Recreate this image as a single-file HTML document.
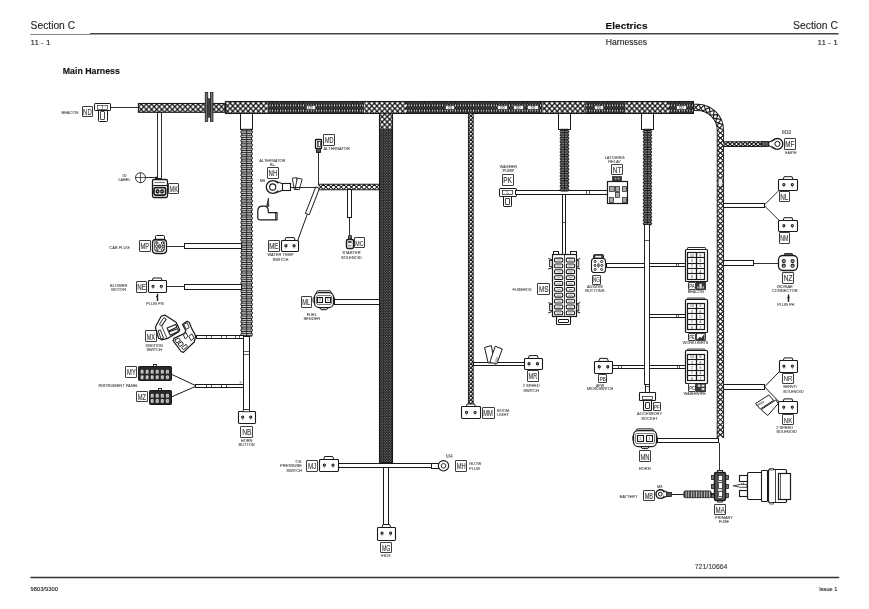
<!DOCTYPE html>
<html><head><meta charset="utf-8"><title>Main Harness</title>
<style>
html,body{margin:0;padding:0;background:#fff;}
body{width:869px;height:609px;overflow:hidden;position:relative;font-family:"Liberation Sans",sans-serif;}
svg{position:absolute;left:0;top:0;will-change:transform;opacity:0.999;}
svg text{font-family:"Liberation Sans",sans-serif;}
</style></head><body>
<svg width="869" height="609" viewBox="0 0 869 609">
<defs>
<pattern id="braidL" width="5.15" height="5.35" patternUnits="userSpaceOnUse" x="225.0" y="103.25">
<rect width="5.15" height="5.35" fill="#fff"/>
<path d="M-1.03,-1.07 L6.18,6.42 M-1.03,6.42 L6.18,-1.07" stroke="#111" stroke-width="1.25" fill="none"/>
<rect x="1.9" y="2.0" width="1.35" height="1.35" fill="#111"/>
<rect x="-0.7" y="-0.7" width="1.4" height="1.4" fill="#111"/><rect x="4.45" y="-0.7" width="1.4" height="1.4" fill="#111"/>
<rect x="-0.7" y="4.65" width="1.4" height="1.4" fill="#111"/><rect x="4.45" y="4.65" width="1.4" height="1.4" fill="#111"/>
</pattern>
<pattern id="braidL2" width="5.18" height="5.52" patternUnits="userSpaceOnUse" x="138.6" y="106.7">
<rect width="5.18" height="5.52" fill="#fff"/>
<path d="M-1.036,-1.104 L6.216,6.624 M-1.036,6.624 L6.216,-1.104" stroke="#111" stroke-width="1.25" fill="none"/>
<rect x="1.9" y="2.1" width="1.35" height="1.35" fill="#111"/>
<rect x="-0.7" y="-0.7" width="1.4" height="1.4" fill="#111"/><rect x="4.48" y="-0.7" width="1.4" height="1.4" fill="#111"/>
<rect x="-0.7" y="4.82" width="1.4" height="1.4" fill="#111"/><rect x="4.48" y="4.82" width="1.4" height="1.4" fill="#111"/>
</pattern>
<pattern id="braidT" width="4.6" height="4.6" patternUnits="userSpaceOnUse">
<rect width="4.6" height="4.6" fill="#fff"/>
<path d="M-1,-1 L5.6,5.6 M-1,5.6 L5.6,-1" stroke="#111" stroke-width="1.3" fill="none"/>
</pattern>
<pattern id="braidD" width="2.575" height="5.2" patternUnits="userSpaceOnUse" x="225.0" y="102.9">
<rect width="2.575" height="5.2" fill="#1a1a1a"/>
<ellipse cx="1.29" cy="2.5" rx="0.52" ry="1.2" fill="#f0f0f0"/>
<ellipse cx="0" cy="5.1" rx="0.42" ry="0.8" fill="#9a9a9a"/><ellipse cx="2.575" cy="5.1" rx="0.42" ry="0.8" fill="#9a9a9a"/>
<ellipse cx="0" cy="-0.1" rx="0.42" ry="0.8" fill="#9a9a9a"/><ellipse cx="2.575" cy="-0.1" rx="0.42" ry="0.8" fill="#9a9a9a"/>
</pattern>
<pattern id="braidV" width="2.6" height="2.7" patternUnits="userSpaceOnUse" x="379.6" y="129">
<rect width="2.6" height="2.7" fill="#1a1a1a"/>
<circle cx="0.65" cy="0.6" r="0.45" fill="#e0e0e0"/><circle cx="1.95" cy="1.95" r="0.45" fill="#e0e0e0"/>
</pattern>
<pattern id="braidG" width="2.0" height="2.0" patternUnits="userSpaceOnUse" x="205.2" y="92.4">
<rect width="2.0" height="2.0" fill="#e8e8e8"/>
<path d="M-0.5,-0.5 L2.5,2.5 M-0.5,2.5 L2.5,-0.5" stroke="#222" stroke-width="0.6" fill="none"/>
</pattern>
<pattern id="corrV" width="10" height="4.1" patternUnits="userSpaceOnUse" y="129.2">
<rect width="10" height="4.1" fill="#6e6e6e"/>
<rect y="0" width="10" height="1.5" fill="#f2f2f2"/>
<rect y="2.6" width="10" height="0.9" fill="#222"/>
</pattern>
<pattern id="corrH" width="2.6" height="10" patternUnits="userSpaceOnUse" x="683.1">
<rect width="2.6" height="10" fill="#444"/>
<rect x="0" width="0.9" height="10" fill="#ccc"/>
</pattern>
</defs>

<text x="30.60" y="28.80" font-size="10.0" text-anchor="start" fill="#262626" font-weight="normal" stroke="#262626" stroke-width="0.12" textLength="44.5" lengthAdjust="spacingAndGlyphs">Section C</text>
<text x="837.90" y="28.80" font-size="10.0" text-anchor="end" fill="#262626" font-weight="normal" stroke="#262626" stroke-width="0.12" textLength="44.8" lengthAdjust="spacingAndGlyphs">Section C</text>
<text x="605.60" y="28.70" font-size="9.8" text-anchor="start" fill="#111" font-weight="bold" stroke="#111" stroke-width="0.12" textLength="41.9" lengthAdjust="spacingAndGlyphs">Electrics</text>
<line x1="30.30" y1="34.50" x2="90.40" y2="34.50" stroke="#555" stroke-width="0.7"/>
<line x1="90.00" y1="33.85" x2="838.60" y2="33.85" stroke="#444" stroke-width="1.5"/>
<text x="30.60" y="44.60" font-size="8.0" text-anchor="start" fill="#262626" font-weight="normal" stroke="#262626" stroke-width="0.12" textLength="19.8" lengthAdjust="spacingAndGlyphs">11 - 1</text>
<text x="837.90" y="44.60" font-size="8.0" text-anchor="end" fill="#262626" font-weight="normal" stroke="#262626" stroke-width="0.12" textLength="20.4" lengthAdjust="spacingAndGlyphs">11 - 1</text>
<text x="605.80" y="44.60" font-size="8.2" text-anchor="start" fill="#262626" font-weight="normal" stroke="#262626" stroke-width="0.12" textLength="41.2" lengthAdjust="spacingAndGlyphs">Harnesses</text>
<text x="62.80" y="73.90" font-size="8.4" text-anchor="start" fill="#111" font-weight="bold" stroke="#111" stroke-width="0.12" textLength="57.1" lengthAdjust="spacingAndGlyphs">Main Harness</text>
<line x1="30.40" y1="577.50" x2="839.20" y2="577.50" stroke="#333" stroke-width="1.3"/>
<text x="30.40" y="590.70" font-size="5.3" text-anchor="start" fill="#262626" font-weight="normal" stroke="#262626" stroke-width="0.12" textLength="27.6" lengthAdjust="spacingAndGlyphs">9803/9300</text>
<text x="837.40" y="590.70" font-size="5.3" text-anchor="end" fill="#262626" font-weight="normal" stroke="#262626" stroke-width="0.12" textLength="18.2" lengthAdjust="spacingAndGlyphs">Issue 1</text>
<text x="694.70" y="568.70" font-size="6.5" text-anchor="start" fill="#3a3a3a" font-weight="normal" stroke="#3a3a3a" stroke-width="0.12" textLength="32.8" lengthAdjust="spacingAndGlyphs">721/10664</text>
<rect x="138.40" y="103.50" width="86.40" height="8.80" fill="url(#braidL2)" stroke="#1a1a1a" stroke-width="1.1"/>
<rect x="207.60" y="98.60" width="2.80" height="18.80" fill="#444" stroke="#1a1a1a" stroke-width="0.4" />
<rect x="205.25" y="92.4" width="2.5" height="29.0" fill="url(#braidG)" stroke="#1a1a1a" stroke-width="0.8"/>
<rect x="210.45" y="92.4" width="2.5" height="29.0" fill="url(#braidG)" stroke="#1a1a1a" stroke-width="0.8"/>
<rect x="224.9" y="101.4" width="42.70" height="12.0" fill="url(#braidL)"/>
<rect x="267.6" y="101.4" width="96.70" height="12.0" fill="url(#braidD)"/>
<rect x="364.3" y="101.4" width="41.70" height="12.0" fill="url(#braidL)"/>
<rect x="406" y="101.4" width="136.70" height="12.0" fill="url(#braidD)"/>
<rect x="542.7" y="101.4" width="42.50" height="12.0" fill="url(#braidL)"/>
<rect x="585.2" y="101.4" width="40.40" height="12.0" fill="url(#braidD)"/>
<rect x="625.6" y="101.4" width="43.40" height="12.0" fill="url(#braidL)"/>
<rect x="669" y="101.4" width="25.00" height="12.0" fill="url(#braidD)"/>
<rect x="225.50" y="101.50" width="468.00" height="12.00" fill="none" stroke="#1a1a1a" stroke-width="1.05" />
<rect x="306.50" y="105.50" width="9.00" height="4.00" fill="#f6f6f6" stroke="#222" stroke-width="0.6" />
<rect x="308.60" y="106.30" width="1.60" height="2.10" fill="none" stroke="#666" stroke-width="0.45" />
<rect x="311.00" y="106.30" width="1.40" height="2.10" fill="none" stroke="#666" stroke-width="0.45" />
<rect x="445.50" y="105.50" width="9.00" height="4.00" fill="#f6f6f6" stroke="#222" stroke-width="0.6" />
<rect x="448.10" y="106.30" width="1.60" height="2.10" fill="none" stroke="#666" stroke-width="0.45" />
<rect x="450.50" y="106.30" width="1.40" height="2.10" fill="none" stroke="#666" stroke-width="0.45" />
<rect x="497.50" y="105.50" width="10.00" height="4.00" fill="#f6f6f6" stroke="#222" stroke-width="0.6" />
<rect x="500.55" y="106.30" width="1.60" height="2.10" fill="none" stroke="#666" stroke-width="0.45" />
<rect x="502.95" y="106.30" width="1.40" height="2.10" fill="none" stroke="#666" stroke-width="0.45" />
<rect x="513.50" y="105.50" width="10.00" height="4.00" fill="#f6f6f6" stroke="#222" stroke-width="0.6" />
<rect x="516.30" y="106.30" width="1.60" height="2.10" fill="none" stroke="#666" stroke-width="0.45" />
<rect x="518.70" y="106.30" width="1.40" height="2.10" fill="none" stroke="#666" stroke-width="0.45" />
<rect x="527.50" y="105.50" width="11.00" height="4.00" fill="#f6f6f6" stroke="#222" stroke-width="0.6" />
<rect x="531.05" y="106.30" width="1.60" height="2.10" fill="none" stroke="#666" stroke-width="0.45" />
<rect x="533.45" y="106.30" width="1.40" height="2.10" fill="none" stroke="#666" stroke-width="0.45" />
<rect x="594.50" y="105.50" width="9.00" height="4.00" fill="#f6f6f6" stroke="#222" stroke-width="0.6" />
<rect x="597.05" y="106.30" width="1.60" height="2.10" fill="none" stroke="#666" stroke-width="0.45" />
<rect x="599.45" y="106.30" width="1.40" height="2.10" fill="none" stroke="#666" stroke-width="0.45" />
<rect x="676.50" y="105.50" width="10.00" height="4.00" fill="#f6f6f6" stroke="#222" stroke-width="0.6" />
<rect x="679.35" y="106.30" width="1.60" height="2.10" fill="none" stroke="#666" stroke-width="0.45" />
<rect x="681.75" y="106.30" width="1.40" height="2.10" fill="none" stroke="#666" stroke-width="0.45" />
<path d="M694,107.4 H697.4 A23,23 0 0 1 720.4,130.4 V437.9" fill="none" stroke="#1a1a1a" stroke-width="7.3"/>
<path d="M694,107.4 H697.4 A23,23 0 0 1 720.4,130.4 V437.9" fill="none" stroke="#fff" stroke-width="5.4"/>
<path d="M694.00,109.48 L698.45,104.52 L702.55,110.97 L709.30,107.40 L710.28,114.97 L717.91,114.59 L715.61,121.89 L722.68,124.79 L717.50,130.40 L723.30,135.43 L717.50,140.46 L723.30,145.49 L717.50,150.52 L723.30,155.55 L717.50,160.58 L723.30,165.61 L717.50,170.64 L723.30,175.67 L717.50,180.70 L723.30,185.73 L717.50,190.76 L723.30,195.79 L717.50,200.82 L723.30,205.85 L717.50,210.88 L723.30,215.91 L717.50,220.94 L723.30,225.97 L717.50,231.00 L723.30,236.03 L717.50,241.06 L723.30,246.09 L717.50,251.12 L723.30,256.15 L717.50,261.18 L723.30,266.21 L717.50,271.24 L723.30,276.27 L717.50,281.30 L723.30,286.33 L717.50,291.36 L723.30,296.39 L717.50,301.42 L723.30,306.45 L717.50,311.48 L723.30,316.51 L717.50,321.54 L723.30,326.57 L717.50,331.60 L723.30,336.63 L717.50,341.66 L723.30,346.69 L717.50,351.72 L723.30,356.75 L717.50,361.78 L723.30,366.81 L717.50,371.84 L723.30,376.87 L717.50,381.90 L723.30,386.93 L717.50,391.96 L723.30,396.99 L717.50,402.02 L723.30,407.05 L717.50,412.08 L723.30,417.11 L717.50,422.14 L723.30,427.17 L717.50,432.20 L723.30,437.23 L722.53,437.90" fill="none" stroke="#1a1a1a" stroke-width="1.15" stroke-linejoin="miter"/>
<path d="M694.00,105.32 L698.19,110.32 L704.01,105.36 L706.63,112.55 L714.02,110.53 L713.34,118.15 L720.86,119.43 L717.02,126.03 L723.30,130.40 L717.50,135.43 L723.30,140.46 L717.50,145.49 L723.30,150.52 L717.50,155.55 L723.30,160.58 L717.50,165.61 L723.30,170.64 L717.50,175.67 L723.30,180.70 L717.50,185.73 L723.30,190.76 L717.50,195.79 L723.30,200.82 L717.50,205.85 L723.30,210.88 L717.50,215.91 L723.30,220.94 L717.50,225.97 L723.30,231.00 L717.50,236.03 L723.30,241.06 L717.50,246.09 L723.30,251.12 L717.50,256.15 L723.30,261.18 L717.50,266.21 L723.30,271.24 L717.50,276.27 L723.30,281.30 L717.50,286.33 L723.30,291.36 L717.50,296.39 L723.30,301.42 L717.50,306.45 L723.30,311.48 L717.50,316.51 L723.30,321.54 L717.50,326.57 L723.30,331.60 L717.50,336.63 L723.30,341.66 L717.50,346.69 L723.30,351.72 L717.50,356.75 L723.30,361.78 L717.50,366.81 L723.30,371.84 L717.50,376.87 L723.30,381.90 L717.50,386.93 L723.30,391.96 L717.50,396.99 L723.30,402.02 L717.50,407.05 L723.30,412.08 L717.50,417.11 L723.30,422.14 L717.50,427.17 L723.30,432.20 L717.50,437.23 L718.27,437.90" fill="none" stroke="#1a1a1a" stroke-width="1.15" stroke-linejoin="miter"/>
<rect x="718.30" y="178.60" width="3.90" height="7.60" fill="#eee" stroke="#333" stroke-width="0.5" />
<text x="78.40" y="113.90" font-size="4.0" text-anchor="end" fill="#4a4a4a" font-weight="normal" stroke="#4a4a4a" stroke-width="0.1" >BEACON</text>
<rect x="82.50" y="106.50" width="10.00" height="10.00" fill="#fff" stroke="#333" stroke-width="0.95" rx="0.3" />
<text x="87.40" y="114.52" font-size="8.4" text-anchor="middle" fill="#383838" font-weight="normal" stroke="#383838" stroke-width="0.12" textLength="8.56" lengthAdjust="spacingAndGlyphs">ND</text>
<rect x="98.50" y="106.50" width="9.00" height="15.00" fill="#fff" stroke="#1a1a1a" stroke-width="1.0" rx="1" />
<rect x="94.50" y="103.50" width="16.00" height="7.00" fill="#fff" stroke="#1a1a1a" stroke-width="1.0" rx="0.6" />
<rect x="97.50" y="105.50" width="10.00" height="4.00" fill="#fff" stroke="#1a1a1a" stroke-width="0.6" />
<line x1="102.40" y1="105.20" x2="102.40" y2="109.20" stroke="#1a1a1a" stroke-width="0.5"/>
<rect x="100.50" y="111.50" width="4.00" height="8.00" fill="#fff" stroke="#1a1a1a" stroke-width="0.8" rx="0.5" />
<line x1="110.30" y1="107.50" x2="138.30" y2="107.50" stroke="#1a1a1a" stroke-width="0.9"/>
<rect x="157.50" y="112.50" width="4.00" height="66.00" fill="#fff" stroke="#1a1a1a" stroke-width="0.9" />
<circle cx="140.50" cy="177.70" r="5.00" fill="#fff" stroke="#1a1a1a" stroke-width="0.9"/>
<line x1="135.50" y1="177.50" x2="145.50" y2="177.50" stroke="#1a1a1a" stroke-width="0.7"/>
<line x1="140.50" y1="172.70" x2="140.50" y2="182.70" stroke="#1a1a1a" stroke-width="0.7"/>
<line x1="145.50" y1="177.50" x2="155.00" y2="177.50" stroke="#1a1a1a" stroke-width="0.9"/>
<text x="124.50" y="177.00" font-size="3.9" text-anchor="middle" fill="#4a4a4a" font-weight="normal" stroke="#4a4a4a" stroke-width="0.1" >ID</text>
<text x="124.50" y="181.40" font-size="3.9" text-anchor="middle" fill="#4a4a4a" font-weight="normal" stroke="#4a4a4a" stroke-width="0.1" >LABEL</text>
<rect x="155.30" y="177.00" width="2.50" height="3.20" fill="#1a1a1a" stroke="#1a1a1a" stroke-width="0.5" />
<rect x="152.50" y="179.50" width="15.00" height="18.00" fill="#fff" stroke="#1a1a1a" stroke-width="1.3" rx="1.4" />
<line x1="152.00" y1="185.50" x2="167.50" y2="185.50" stroke="#1a1a1a" stroke-width="1.0"/>
<line x1="154.60" y1="182.50" x2="165.00" y2="182.50" stroke="#1a1a1a" stroke-width="0.6"/>
<rect x="154.00" y="187.60" width="11.60" height="7.60" fill="#fff" stroke="#1a1a1a" stroke-width="1.7" rx="1.6" />
<rect x="155.90" y="189.60" width="3.30" height="3.60" fill="#222" stroke="#1a1a1a" stroke-width="0.5" rx="1.0" />
<rect x="160.40" y="189.60" width="3.30" height="3.60" fill="#222" stroke="#1a1a1a" stroke-width="0.5" rx="1.0" />
<circle cx="157.55" cy="191.40" r="0.60" fill="#eee" stroke="#1a1a1a" stroke-width="0.1"/>
<circle cx="162.05" cy="191.40" r="0.60" fill="#eee" stroke="#1a1a1a" stroke-width="0.1"/>
<rect x="168.50" y="183.50" width="10.00" height="10.00" fill="#fff" stroke="#333" stroke-width="0.95" rx="0.3" />
<text x="173.70" y="191.55" font-size="8.320000000000006" text-anchor="middle" fill="#383838" font-weight="normal" stroke="#383838" stroke-width="0.12" textLength="8.24" lengthAdjust="spacingAndGlyphs">MK</text>
<rect x="240.50" y="113.50" width="12.00" height="16.00" fill="#fff" stroke="#1a1a1a" stroke-width="1.0" />
<rect x="241.80" y="129.30" width="9.70" height="206.70" fill="#f4f4f4" stroke="#111" stroke-width="1.0"/>
<rect x="240.80" y="130.85" width="11.70" height="2.50" rx="1.1" fill="#b6b6b6" stroke="#111" stroke-width="0.9"/>
<rect x="240.80" y="135.16" width="11.70" height="2.50" rx="1.1" fill="#b6b6b6" stroke="#111" stroke-width="0.9"/>
<rect x="240.80" y="139.46" width="11.70" height="2.50" rx="1.1" fill="#b6b6b6" stroke="#111" stroke-width="0.9"/>
<rect x="240.80" y="143.77" width="11.70" height="2.50" rx="1.1" fill="#b6b6b6" stroke="#111" stroke-width="0.9"/>
<rect x="240.80" y="148.08" width="11.70" height="2.50" rx="1.1" fill="#b6b6b6" stroke="#111" stroke-width="0.9"/>
<rect x="240.80" y="152.38" width="11.70" height="2.50" rx="1.1" fill="#b6b6b6" stroke="#111" stroke-width="0.9"/>
<rect x="240.80" y="156.69" width="11.70" height="2.50" rx="1.1" fill="#b6b6b6" stroke="#111" stroke-width="0.9"/>
<rect x="240.80" y="161.00" width="11.70" height="2.50" rx="1.1" fill="#b6b6b6" stroke="#111" stroke-width="0.9"/>
<rect x="240.80" y="165.30" width="11.70" height="2.50" rx="1.1" fill="#b6b6b6" stroke="#111" stroke-width="0.9"/>
<rect x="240.80" y="169.61" width="11.70" height="2.50" rx="1.1" fill="#b6b6b6" stroke="#111" stroke-width="0.9"/>
<rect x="240.80" y="173.91" width="11.70" height="2.50" rx="1.1" fill="#b6b6b6" stroke="#111" stroke-width="0.9"/>
<rect x="240.80" y="178.22" width="11.70" height="2.50" rx="1.1" fill="#b6b6b6" stroke="#111" stroke-width="0.9"/>
<rect x="240.80" y="182.53" width="11.70" height="2.50" rx="1.1" fill="#b6b6b6" stroke="#111" stroke-width="0.9"/>
<rect x="240.80" y="186.83" width="11.70" height="2.50" rx="1.1" fill="#b6b6b6" stroke="#111" stroke-width="0.9"/>
<rect x="240.80" y="191.14" width="11.70" height="2.50" rx="1.1" fill="#b6b6b6" stroke="#111" stroke-width="0.9"/>
<rect x="240.80" y="195.45" width="11.70" height="2.50" rx="1.1" fill="#b6b6b6" stroke="#111" stroke-width="0.9"/>
<rect x="240.80" y="199.75" width="11.70" height="2.50" rx="1.1" fill="#b6b6b6" stroke="#111" stroke-width="0.9"/>
<rect x="240.80" y="204.06" width="11.70" height="2.50" rx="1.1" fill="#b6b6b6" stroke="#111" stroke-width="0.9"/>
<rect x="240.80" y="208.36" width="11.70" height="2.50" rx="1.1" fill="#b6b6b6" stroke="#111" stroke-width="0.9"/>
<rect x="240.80" y="212.67" width="11.70" height="2.50" rx="1.1" fill="#b6b6b6" stroke="#111" stroke-width="0.9"/>
<rect x="240.80" y="216.98" width="11.70" height="2.50" rx="1.1" fill="#b6b6b6" stroke="#111" stroke-width="0.9"/>
<rect x="240.80" y="221.28" width="11.70" height="2.50" rx="1.1" fill="#b6b6b6" stroke="#111" stroke-width="0.9"/>
<rect x="240.80" y="225.59" width="11.70" height="2.50" rx="1.1" fill="#b6b6b6" stroke="#111" stroke-width="0.9"/>
<rect x="240.80" y="229.90" width="11.70" height="2.50" rx="1.1" fill="#b6b6b6" stroke="#111" stroke-width="0.9"/>
<rect x="240.80" y="234.20" width="11.70" height="2.50" rx="1.1" fill="#b6b6b6" stroke="#111" stroke-width="0.9"/>
<rect x="240.80" y="238.51" width="11.70" height="2.50" rx="1.1" fill="#b6b6b6" stroke="#111" stroke-width="0.9"/>
<rect x="240.80" y="242.81" width="11.70" height="2.50" rx="1.1" fill="#b6b6b6" stroke="#111" stroke-width="0.9"/>
<rect x="240.80" y="247.12" width="11.70" height="2.50" rx="1.1" fill="#b6b6b6" stroke="#111" stroke-width="0.9"/>
<rect x="240.80" y="251.43" width="11.70" height="2.50" rx="1.1" fill="#b6b6b6" stroke="#111" stroke-width="0.9"/>
<rect x="240.80" y="255.73" width="11.70" height="2.50" rx="1.1" fill="#b6b6b6" stroke="#111" stroke-width="0.9"/>
<rect x="240.80" y="260.04" width="11.70" height="2.50" rx="1.1" fill="#b6b6b6" stroke="#111" stroke-width="0.9"/>
<rect x="240.80" y="264.35" width="11.70" height="2.50" rx="1.1" fill="#b6b6b6" stroke="#111" stroke-width="0.9"/>
<rect x="240.80" y="268.65" width="11.70" height="2.50" rx="1.1" fill="#b6b6b6" stroke="#111" stroke-width="0.9"/>
<rect x="240.80" y="272.96" width="11.70" height="2.50" rx="1.1" fill="#b6b6b6" stroke="#111" stroke-width="0.9"/>
<rect x="240.80" y="277.26" width="11.70" height="2.50" rx="1.1" fill="#b6b6b6" stroke="#111" stroke-width="0.9"/>
<rect x="240.80" y="281.57" width="11.70" height="2.50" rx="1.1" fill="#b6b6b6" stroke="#111" stroke-width="0.9"/>
<rect x="240.80" y="285.88" width="11.70" height="2.50" rx="1.1" fill="#b6b6b6" stroke="#111" stroke-width="0.9"/>
<rect x="240.80" y="290.18" width="11.70" height="2.50" rx="1.1" fill="#b6b6b6" stroke="#111" stroke-width="0.9"/>
<rect x="240.80" y="294.49" width="11.70" height="2.50" rx="1.1" fill="#b6b6b6" stroke="#111" stroke-width="0.9"/>
<rect x="240.80" y="298.80" width="11.70" height="2.50" rx="1.1" fill="#b6b6b6" stroke="#111" stroke-width="0.9"/>
<rect x="240.80" y="303.10" width="11.70" height="2.50" rx="1.1" fill="#b6b6b6" stroke="#111" stroke-width="0.9"/>
<rect x="240.80" y="307.41" width="11.70" height="2.50" rx="1.1" fill="#b6b6b6" stroke="#111" stroke-width="0.9"/>
<rect x="240.80" y="311.71" width="11.70" height="2.50" rx="1.1" fill="#b6b6b6" stroke="#111" stroke-width="0.9"/>
<rect x="240.80" y="316.02" width="11.70" height="2.50" rx="1.1" fill="#b6b6b6" stroke="#111" stroke-width="0.9"/>
<rect x="240.80" y="320.33" width="11.70" height="2.50" rx="1.1" fill="#b6b6b6" stroke="#111" stroke-width="0.9"/>
<rect x="240.80" y="324.63" width="11.70" height="2.50" rx="1.1" fill="#b6b6b6" stroke="#111" stroke-width="0.9"/>
<rect x="240.80" y="328.94" width="11.70" height="2.50" rx="1.1" fill="#b6b6b6" stroke="#111" stroke-width="0.9"/>
<rect x="240.80" y="333.25" width="11.70" height="2.50" rx="1.1" fill="#b6b6b6" stroke="#111" stroke-width="0.9"/>
<line x1="246.65" y1="129.30" x2="246.65" y2="336.00" stroke="#222" stroke-width="0.9"/>
<rect x="243.50" y="336.50" width="6.00" height="75.00" fill="#fff" stroke="#1a1a1a" stroke-width="1.0" />
<line x1="243.40" y1="351.50" x2="249.80" y2="351.50" stroke="#1a1a1a" stroke-width="0.7"/>
<line x1="243.40" y1="354.50" x2="249.80" y2="354.50" stroke="#1a1a1a" stroke-width="0.7"/>
<rect x="238.50" y="411.50" width="17.00" height="12.00" fill="#fff" stroke="#1a1a1a" stroke-width="1.1" rx="0.9" />
<circle cx="242.70" cy="417.09" r="1.05" fill="#eee" stroke="#1a1a1a" stroke-width="1.1"/>
<line x1="242.70" y1="418.39" x2="242.70" y2="419.99" stroke="#444" stroke-width="0.5"/>
<circle cx="250.70" cy="417.09" r="1.05" fill="#eee" stroke="#1a1a1a" stroke-width="1.1"/>
<line x1="250.70" y1="418.39" x2="250.70" y2="419.99" stroke="#444" stroke-width="0.5"/>
<rect x="243.20" y="409.60" width="6.40" height="2.20" fill="#fff" stroke="#1a1a1a" stroke-width="0.8" />
<rect x="240.50" y="426.50" width="12.00" height="11.00" fill="#fff" stroke="#333" stroke-width="0.95" rx="0.3" />
<text x="246.85" y="435.25" font-size="9.040000000000054" text-anchor="middle" fill="#383838" font-weight="normal" stroke="#383838" stroke-width="0.12" textLength="9.44" lengthAdjust="spacingAndGlyphs">NB</text>
<text x="246.60" y="441.60" font-size="3.95" text-anchor="middle" fill="#4a4a4a" font-weight="normal" stroke="#4a4a4a" stroke-width="0.1" >HORN</text>
<text x="246.60" y="445.60" font-size="3.95" text-anchor="middle" fill="#4a4a4a" font-weight="normal" stroke="#4a4a4a" stroke-width="0.1" >BUTTON</text>
<text x="129.60" y="248.60" font-size="4.0" text-anchor="end" fill="#4a4a4a" font-weight="normal" stroke="#4a4a4a" stroke-width="0.1" >CAB PLUG</text>
<rect x="139.50" y="240.50" width="11.00" height="11.00" fill="#fff" stroke="#333" stroke-width="0.95" rx="0.3" />
<text x="144.80" y="249.08" font-size="8.559999999999992" text-anchor="middle" fill="#383838" font-weight="normal" stroke="#383838" stroke-width="0.12" textLength="8.72" lengthAdjust="spacingAndGlyphs">MP</text>
<rect x="155.50" y="235.50" width="9.00" height="5.00" fill="#fff" stroke="#1a1a1a" stroke-width="1.0" rx="1.0" />
<rect x="152.50" y="239.50" width="14.00" height="14.00" fill="#fff" stroke="#1a1a1a" stroke-width="1.3" rx="3.4" />
<rect x="154.50" y="240.50" width="10.00" height="11.00" fill="#fff" stroke="#1a1a1a" stroke-width="0.7" rx="2.6" />
<circle cx="156.90" cy="243.00" r="1.15" fill="#fff" stroke="#1a1a1a" stroke-width="0.9"/>
<circle cx="162.50" cy="243.00" r="1.15" fill="#fff" stroke="#1a1a1a" stroke-width="0.9"/>
<circle cx="156.50" cy="246.40" r="1.15" fill="#fff" stroke="#1a1a1a" stroke-width="0.9"/>
<circle cx="162.90" cy="246.40" r="1.15" fill="#fff" stroke="#1a1a1a" stroke-width="0.9"/>
<circle cx="156.90" cy="249.80" r="1.15" fill="#fff" stroke="#1a1a1a" stroke-width="0.9"/>
<circle cx="162.50" cy="249.80" r="1.15" fill="#fff" stroke="#1a1a1a" stroke-width="0.9"/>
<ellipse cx="159.7" cy="246.4" rx="1.2" ry="2.2" fill="#888" stroke="#1a1a1a" stroke-width="0.7"/>
<line x1="166.30" y1="246.50" x2="184.00" y2="246.50" stroke="#1a1a1a" stroke-width="0.9"/>
<rect x="184.50" y="243.50" width="57.00" height="5.00" fill="#fff" stroke="#1a1a1a" stroke-width="1.0" />
<text x="118.70" y="286.60" font-size="4.0" text-anchor="middle" fill="#4a4a4a" font-weight="normal" stroke="#4a4a4a" stroke-width="0.1" >BLOWER</text>
<text x="118.70" y="290.90" font-size="4.0" text-anchor="middle" fill="#4a4a4a" font-weight="normal" stroke="#4a4a4a" stroke-width="0.1" >MOTOR</text>
<rect x="136.50" y="281.50" width="10.00" height="11.00" fill="#fff" stroke="#333" stroke-width="0.95" rx="0.3" />
<text x="141.55" y="290.08" font-size="8.560000000000036" text-anchor="middle" fill="#383838" font-weight="normal" stroke="#383838" stroke-width="0.12" textLength="8.64" lengthAdjust="spacingAndGlyphs">NE</text>
<path d="M152.10,281.00 L153.20,278.00 L161.20,278.00 L162.30,281.00 Z" fill="#fff" stroke="#1a1a1a" stroke-width="1.0" />
<rect x="148.50" y="280.50" width="18.00" height="12.00" fill="#fff" stroke="#1a1a1a" stroke-width="1.1" rx="0.9" />
<circle cx="153.06" cy="286.25" r="1.05" fill="#eee" stroke="#1a1a1a" stroke-width="1.1"/>
<line x1="153.06" y1="287.55" x2="153.06" y2="289.15" stroke="#444" stroke-width="0.5"/>
<circle cx="161.34" cy="286.25" r="1.05" fill="#eee" stroke="#1a1a1a" stroke-width="1.1"/>
<line x1="161.34" y1="287.55" x2="161.34" y2="289.15" stroke="#444" stroke-width="0.5"/>
<line x1="166.30" y1="286.50" x2="184.00" y2="286.50" stroke="#1a1a1a" stroke-width="0.9"/>
<rect x="184.50" y="284.50" width="57.00" height="5.00" fill="#fff" stroke="#1a1a1a" stroke-width="1.0" />
<line x1="157.50" y1="293.80" x2="157.50" y2="301.00" stroke="#1a1a1a" stroke-width="1.4"/>
<line x1="156.00" y1="296.50" x2="158.00" y2="296.50" stroke="#1a1a1a" stroke-width="1.2"/>
<text x="155.00" y="305.00" font-size="3.95" text-anchor="middle" fill="#4a4a4a" font-weight="normal" stroke="#4a4a4a" stroke-width="0.1" >PLUG PG</text>
<rect x="145.50" y="330.50" width="11.00" height="11.00" fill="#fff" stroke="#333" stroke-width="0.95" rx="0.3" />
<text x="150.85" y="339.54" font-size="8.720000000000027" text-anchor="middle" fill="#383838" font-weight="normal" stroke="#383838" stroke-width="0.12" textLength="8.32" lengthAdjust="spacingAndGlyphs">MX</text>
<text x="154.20" y="346.60" font-size="3.95" text-anchor="middle" fill="#4a4a4a" font-weight="normal" stroke="#4a4a4a" stroke-width="0.1" >IGNITION</text>
<text x="154.20" y="350.90" font-size="3.95" text-anchor="middle" fill="#4a4a4a" font-weight="normal" stroke="#4a4a4a" stroke-width="0.1" >SWITCH</text>
<path d="M161.2,316.3 L164.8,315.1 L176.1,322.2 L179.7,329.8 L178.4,332.1 L167.6,338.4 L161.7,339.8 L158.5,338.0 L155.4,327.6 L156.3,325.3 Z" fill="#fff" stroke="#1a1a1a" stroke-width="1.2" stroke-linejoin="round"/>
<path d="M159.4,324.4 L163.9,317.6 L166.2,319.0 L161.7,326.0 Z" fill="#fff" stroke="#1a1a1a" stroke-width="0.9" stroke-linejoin="round"/>
<path d="M158.1,330.7 L160.3,329.8 L163.5,338.0 L161.2,339.1 Z" fill="#fff" stroke="#1a1a1a" stroke-width="0.9" stroke-linejoin="round"/>
<path d="M167.1,328.0 L175.7,324.4 L177.0,327.1 L168.5,331.2 Z" fill="#fff" stroke="#1a1a1a" stroke-width="1.1" stroke-linejoin="round"/>
<path d="M168.7,332.1 L177.5,328.7 L178.7,331.2 L170.3,335.3 Z" fill="#fff" stroke="#1a1a1a" stroke-width="1.1" stroke-linejoin="round"/>
<line x1="161.70" y1="326.20" x2="167.10" y2="338.40" stroke="#1a1a1a" stroke-width="0.8"/>
<line x1="161.70" y1="326.20" x2="166.20" y2="319.40" stroke="#1a1a1a" stroke-width="0.7"/>
<path d="M182.5,324.4 L187.0,321.3 L189.2,322.2 L191.9,328.9 L195.1,334.8 L195.6,336.6 L194.2,342.0 L183.4,352.4 L181.1,351.5 L173.0,340.7 L173.9,338.4 L182.5,334.4 L185.2,332.6 L185.6,330.3 Z" fill="#fff" stroke="#1a1a1a" stroke-width="1.2" stroke-linejoin="round"/>
<path d="M183.8,324.4 L187.0,322.6 L189.2,327.6 L186.1,329.4 Z" fill="#fff" stroke="#1a1a1a" stroke-width="0.9" stroke-linejoin="round"/>
<path d="M183.4,334.8 L186.1,332.6 L187.9,336.6 L185.2,338.9 Z" fill="#fff" stroke="#1a1a1a" stroke-width="0.9" stroke-linejoin="round"/>
<path d="M188.8,336.2 L191.9,333.9 L194.2,338.0 L191.0,340.7 Z" fill="#fff" stroke="#1a1a1a" stroke-width="0.9" stroke-linejoin="round"/>
<path d="M174.8,339.8 L178.8,338.0 L180.7,340.7 L176.6,342.9 Z" fill="#fff" stroke="#1a1a1a" stroke-width="0.9" stroke-linejoin="round"/>
<path d="M177.9,343.8 L182.0,341.6 L183.4,344.3 L179.7,346.6 Z" fill="#fff" stroke="#1a1a1a" stroke-width="0.9" stroke-linejoin="round"/>
<path d="M181.6,347.5 L186.1,344.3 L187.4,346.6 L183.4,349.7 Z" fill="#fff" stroke="#1a1a1a" stroke-width="0.9" stroke-linejoin="round"/>
<rect x="196.50" y="335.50" width="47.00" height="3.00" fill="#fff" stroke="#1a1a1a" stroke-width="1.0" />
<line x1="206.50" y1="335.60" x2="206.50" y2="338.60" stroke="#1a1a1a" stroke-width="0.7"/>
<line x1="211.50" y1="335.60" x2="211.50" y2="338.60" stroke="#1a1a1a" stroke-width="0.7"/>
<line x1="221.50" y1="335.60" x2="221.50" y2="338.60" stroke="#1a1a1a" stroke-width="0.7"/>
<line x1="226.50" y1="335.60" x2="226.50" y2="338.60" stroke="#1a1a1a" stroke-width="0.7"/>
<line x1="235.50" y1="335.60" x2="235.50" y2="338.60" stroke="#1a1a1a" stroke-width="0.7"/>
<line x1="239.50" y1="335.60" x2="239.50" y2="338.60" stroke="#1a1a1a" stroke-width="0.7"/>
<text x="138.50" y="386.80" font-size="4.0" text-anchor="end" fill="#4a4a4a" font-weight="normal" stroke="#4a4a4a" stroke-width="0.1" >INSTRUMENT PANEL</text>
<rect x="125.50" y="366.50" width="11.00" height="11.00" fill="#fff" stroke="#333" stroke-width="0.95" rx="0.3" />
<text x="131.40" y="375.36" font-size="8.640000000000056" text-anchor="middle" fill="#383838" font-weight="normal" stroke="#383838" stroke-width="0.12" textLength="8.72" lengthAdjust="spacingAndGlyphs">MY</text>
<rect x="153.50" y="364.50" width="3.00" height="3.00" fill="#fff" stroke="#1a1a1a" stroke-width="0.9" />
<rect x="138.50" y="366.50" width="33.00" height="14.00" fill="#2a2a2a" stroke="#1a1a1a" stroke-width="1.0" rx="0.8" />
<rect x="140.50" y="369.80" width="3.20" height="4.00" fill="#e8e8e8" stroke="#111" stroke-width="0.4" rx="0.9" />
<rect x="141.60" y="370.90" width="1.00" height="2.00" fill="#999" stroke="none" stroke-width="0" />
<rect x="145.56" y="369.80" width="3.20" height="4.00" fill="#e8e8e8" stroke="#111" stroke-width="0.4" rx="0.9" />
<rect x="146.66" y="370.90" width="1.00" height="2.00" fill="#999" stroke="none" stroke-width="0" />
<rect x="150.63" y="369.80" width="3.20" height="4.00" fill="#e8e8e8" stroke="#111" stroke-width="0.4" rx="0.9" />
<rect x="151.73" y="370.90" width="1.00" height="2.00" fill="#999" stroke="none" stroke-width="0" />
<rect x="155.69" y="369.80" width="3.20" height="4.00" fill="#e8e8e8" stroke="#111" stroke-width="0.4" rx="0.9" />
<rect x="156.79" y="370.90" width="1.00" height="2.00" fill="#999" stroke="none" stroke-width="0" />
<rect x="160.76" y="369.80" width="3.20" height="4.00" fill="#e8e8e8" stroke="#111" stroke-width="0.4" rx="0.9" />
<rect x="161.86" y="370.90" width="1.00" height="2.00" fill="#999" stroke="none" stroke-width="0" />
<rect x="165.82" y="369.80" width="3.20" height="4.00" fill="#e8e8e8" stroke="#111" stroke-width="0.4" rx="0.9" />
<rect x="166.92" y="370.90" width="1.00" height="2.00" fill="#999" stroke="none" stroke-width="0" />
<rect x="140.50" y="375.20" width="3.20" height="4.00" fill="#e8e8e8" stroke="#111" stroke-width="0.4" rx="0.9" />
<rect x="141.60" y="376.30" width="1.00" height="2.00" fill="#999" stroke="none" stroke-width="0" />
<rect x="145.56" y="375.20" width="3.20" height="4.00" fill="#e8e8e8" stroke="#111" stroke-width="0.4" rx="0.9" />
<rect x="146.66" y="376.30" width="1.00" height="2.00" fill="#999" stroke="none" stroke-width="0" />
<rect x="150.63" y="375.20" width="3.20" height="4.00" fill="#e8e8e8" stroke="#111" stroke-width="0.4" rx="0.9" />
<rect x="151.73" y="376.30" width="1.00" height="2.00" fill="#999" stroke="none" stroke-width="0" />
<rect x="155.69" y="375.20" width="3.20" height="4.00" fill="#e8e8e8" stroke="#111" stroke-width="0.4" rx="0.9" />
<rect x="156.79" y="376.30" width="1.00" height="2.00" fill="#999" stroke="none" stroke-width="0" />
<rect x="160.76" y="375.20" width="3.20" height="4.00" fill="#e8e8e8" stroke="#111" stroke-width="0.4" rx="0.9" />
<rect x="161.86" y="376.30" width="1.00" height="2.00" fill="#999" stroke="none" stroke-width="0" />
<rect x="165.82" y="375.20" width="3.20" height="4.00" fill="#e8e8e8" stroke="#111" stroke-width="0.4" rx="0.9" />
<rect x="166.92" y="376.30" width="1.00" height="2.00" fill="#999" stroke="none" stroke-width="0" />
<rect x="136.50" y="391.50" width="11.00" height="10.00" fill="#fff" stroke="#333" stroke-width="0.95" rx="0.3" />
<text x="141.85" y="399.62" font-size="8.240000000000009" text-anchor="middle" fill="#383838" font-weight="normal" stroke="#383838" stroke-width="0.12" textLength="8.24" lengthAdjust="spacingAndGlyphs">MZ</text>
<rect x="158.50" y="388.50" width="3.00" height="3.00" fill="#fff" stroke="#1a1a1a" stroke-width="0.9" />
<rect x="149.50" y="390.50" width="22.00" height="14.00" fill="#2a2a2a" stroke="#1a1a1a" stroke-width="1.0" rx="0.8" />
<rect x="150.60" y="393.80" width="3.20" height="4.00" fill="#e8e8e8" stroke="#111" stroke-width="0.4" rx="0.9" />
<rect x="151.70" y="394.90" width="1.00" height="2.00" fill="#999" stroke="none" stroke-width="0" />
<rect x="155.67" y="393.80" width="3.20" height="4.00" fill="#e8e8e8" stroke="#111" stroke-width="0.4" rx="0.9" />
<rect x="156.77" y="394.90" width="1.00" height="2.00" fill="#999" stroke="none" stroke-width="0" />
<rect x="160.74" y="393.80" width="3.20" height="4.00" fill="#e8e8e8" stroke="#111" stroke-width="0.4" rx="0.9" />
<rect x="161.84" y="394.90" width="1.00" height="2.00" fill="#999" stroke="none" stroke-width="0" />
<rect x="165.81" y="393.80" width="3.20" height="4.00" fill="#e8e8e8" stroke="#111" stroke-width="0.4" rx="0.9" />
<rect x="166.91" y="394.90" width="1.00" height="2.00" fill="#999" stroke="none" stroke-width="0" />
<rect x="150.60" y="398.90" width="3.20" height="4.00" fill="#e8e8e8" stroke="#111" stroke-width="0.4" rx="0.9" />
<rect x="151.70" y="400.00" width="1.00" height="2.00" fill="#999" stroke="none" stroke-width="0" />
<rect x="155.67" y="398.90" width="3.20" height="4.00" fill="#e8e8e8" stroke="#111" stroke-width="0.4" rx="0.9" />
<rect x="156.77" y="400.00" width="1.00" height="2.00" fill="#999" stroke="none" stroke-width="0" />
<rect x="160.74" y="398.90" width="3.20" height="4.00" fill="#e8e8e8" stroke="#111" stroke-width="0.4" rx="0.9" />
<rect x="161.84" y="400.00" width="1.00" height="2.00" fill="#999" stroke="none" stroke-width="0" />
<rect x="165.81" y="398.90" width="3.20" height="4.00" fill="#e8e8e8" stroke="#111" stroke-width="0.4" rx="0.9" />
<rect x="166.91" y="400.00" width="1.00" height="2.00" fill="#999" stroke="none" stroke-width="0" />
<line x1="171.10" y1="374.10" x2="195.60" y2="385.60" stroke="#1a1a1a" stroke-width="1.0"/>
<line x1="171.10" y1="397.10" x2="195.60" y2="386.40" stroke="#1a1a1a" stroke-width="1.0"/>
<rect x="195.50" y="384.50" width="48.00" height="3.00" fill="#fff" stroke="#1a1a1a" stroke-width="1.0" />
<line x1="206.50" y1="384.20" x2="206.50" y2="387.80" stroke="#1a1a1a" stroke-width="0.7"/>
<line x1="211.50" y1="384.20" x2="211.50" y2="387.80" stroke="#1a1a1a" stroke-width="0.7"/>
<line x1="221.50" y1="384.20" x2="221.50" y2="387.80" stroke="#1a1a1a" stroke-width="0.7"/>
<line x1="226.50" y1="384.20" x2="226.50" y2="387.80" stroke="#1a1a1a" stroke-width="0.7"/>
<circle cx="240.60" cy="382.40" r="0.80" fill="#fff" stroke="#555" stroke-width="0.5"/>
<rect x="323.50" y="134.50" width="11.00" height="11.00" fill="#fff" stroke="#333" stroke-width="0.95" rx="0.3" />
<text x="329.25" y="142.97" font-size="8.240000000000009" text-anchor="middle" fill="#383838" font-weight="normal" stroke="#383838" stroke-width="0.12" textLength="8.48" lengthAdjust="spacingAndGlyphs">MD</text>
<rect x="315.50" y="139.50" width="6.00" height="9.00" fill="#fff" stroke="#1a1a1a" stroke-width="1.3" rx="0.6" />
<rect x="317.50" y="141.50" width="3.00" height="5.00" fill="#fff" stroke="#1a1a1a" stroke-width="0.7" />
<line x1="318.55" y1="141.20" x2="318.55" y2="146.60" stroke="#1a1a1a" stroke-width="0.5"/>
<rect x="316.50" y="148.50" width="4.00" height="4.00" fill="#555" stroke="#1a1a1a" stroke-width="0.9" />
<line x1="318.50" y1="152.00" x2="318.50" y2="184.00" stroke="#1a1a1a" stroke-width="0.9"/>
<text x="323.60" y="149.80" font-size="4.0" text-anchor="start" fill="#4a4a4a" font-weight="normal" stroke="#4a4a4a" stroke-width="0.1" >ALTERNATOR</text>
<text x="272.40" y="161.60" font-size="4.0" text-anchor="middle" fill="#4a4a4a" font-weight="normal" stroke="#4a4a4a" stroke-width="0.1" >ALTERNATOR</text>
<text x="272.40" y="165.60" font-size="4.0" text-anchor="middle" fill="#4a4a4a" font-weight="normal" stroke="#4a4a4a" stroke-width="0.1" >B+</text>
<rect x="267.50" y="167.50" width="11.00" height="11.00" fill="#fff" stroke="#333" stroke-width="0.95" rx="0.3" />
<text x="272.90" y="176.26" font-size="8.639999999999986" text-anchor="middle" fill="#383838" font-weight="normal" stroke="#383838" stroke-width="0.12" textLength="8.72" lengthAdjust="spacingAndGlyphs">NH</text>
<text x="262.60" y="182.20" font-size="3.95" text-anchor="middle" fill="#4a4a4a" font-weight="normal" stroke="#4a4a4a" stroke-width="0.1" >M8</text>
<path d="M276.0,181.2 L282.6,183.8 L282.6,190.3 L276.0,192.8 Z" fill="#fff" stroke="#1a1a1a" stroke-width="1.1" />
<circle cx="272.70" cy="187.00" r="6.40" fill="#fff" stroke="#1a1a1a" stroke-width="1.3"/>
<path d="M277.4,183.0 L281.6,184.5 L281.6,189.6 L277.4,191.0 Z" fill="#fff" stroke="none" stroke-width="0" />
<circle cx="272.70" cy="187.00" r="3.10" fill="#fff" stroke="#1a1a1a" stroke-width="1.1"/>
<rect x="282.50" y="183.50" width="8.00" height="7.00" fill="#fff" stroke="#1a1a1a" stroke-width="1.1" />
<path d="M292.3,178.2 L296.6,177.6 L298.6,189.0 L294.3,189.6 Z" fill="#fff" stroke="#1a1a1a" stroke-width="0.9" />
<path d="M297.4,178.0 L302.2,179.2 L299.2,189.8 L295.0,188.8 Z" fill="#fff" stroke="#1a1a1a" stroke-width="0.9" />
<line x1="290.60" y1="187.50" x2="318.40" y2="187.50" stroke="#1a1a1a" stroke-width="0.9"/>
<path d="M257.8,211.0 Q257.8,206.2 262.6,206.2 L264.4,206.2 Q268.0,206.4 268.2,210.0 L268.4,212.6 L277.0,212.6 L277.0,219.8 L259.6,219.8 Q257.8,219.8 257.8,218.0 Z" fill="#fff" stroke="#1a1a1a" stroke-width="1.2" />
<line x1="275.50" y1="212.60" x2="275.50" y2="219.80" stroke="#1a1a1a" stroke-width="0.8"/>
<path d="M266.6,206.6 L268.3,198.2 L268.9,206.8" fill="#444" stroke="#1a1a1a" stroke-width="0.7" />
<path d="M318.2,187.0 H379.6" fill="none" stroke="#1a1a1a" stroke-width="6.6"/>
<path d="M318.2,187.0 H379.6" fill="none" stroke="#fff" stroke-width="4.699999999999999"/>
<path d="M318.20,189.55 L323.30,184.45 L328.40,189.55 L333.50,184.45 L338.60,189.55 L343.70,184.45 L348.80,189.55 L353.90,184.45 L359.00,189.55 L364.10,184.45 L369.20,189.55 L374.30,184.45 L379.40,189.55 L379.60,189.35" fill="none" stroke="#1a1a1a" stroke-width="1.15" stroke-linejoin="miter"/>
<path d="M318.20,184.45 L323.30,189.55 L328.40,184.45 L333.50,189.55 L338.60,184.45 L343.70,189.55 L348.80,184.45 L353.90,189.55 L359.00,184.45 L364.10,189.55 L369.20,184.45 L374.30,189.55 L379.40,184.45 L379.60,184.65" fill="none" stroke="#1a1a1a" stroke-width="1.15" stroke-linejoin="miter"/>
<path d="M315.8,186.8 L319.4,188.6 L309.2,214.8 L305.4,213.4 Z" fill="#fff" stroke="#1a1a1a" stroke-width="1.0" />
<line x1="307.20" y1="214.40" x2="297.80" y2="240.20" stroke="#1a1a1a" stroke-width="1.0"/>
<rect x="268.50" y="240.50" width="11.00" height="11.00" fill="#fff" stroke="#333" stroke-width="0.95" rx="0.3" />
<text x="273.80" y="249.16" font-size="8.639999999999986" text-anchor="middle" fill="#383838" font-weight="normal" stroke="#383838" stroke-width="0.12" textLength="9.20" lengthAdjust="spacingAndGlyphs">ME</text>
<path d="M284.75,240.60 L285.85,237.60 L294.15,237.60 L295.25,240.60 Z" fill="#fff" stroke="#1a1a1a" stroke-width="1.0" />
<rect x="281.50" y="240.50" width="17.00" height="11.00" fill="#fff" stroke="#1a1a1a" stroke-width="1.1" rx="0.9" />
<circle cx="285.95" cy="245.71" r="1.05" fill="#eee" stroke="#1a1a1a" stroke-width="1.1"/>
<line x1="285.95" y1="247.01" x2="285.95" y2="248.61" stroke="#444" stroke-width="0.5"/>
<circle cx="294.05" cy="245.71" r="1.05" fill="#eee" stroke="#1a1a1a" stroke-width="1.1"/>
<line x1="294.05" y1="247.01" x2="294.05" y2="248.61" stroke="#444" stroke-width="0.5"/>
<text x="280.50" y="256.40" font-size="4.0" text-anchor="middle" fill="#4a4a4a" font-weight="normal" stroke="#4a4a4a" stroke-width="0.1" >WATER TEMP</text>
<text x="280.50" y="260.60" font-size="4.0" text-anchor="middle" fill="#4a4a4a" font-weight="normal" stroke="#4a4a4a" stroke-width="0.1" >SWITCH</text>
<rect x="347.50" y="189.50" width="4.00" height="28.00" fill="#fff" stroke="#1a1a1a" stroke-width="1.0" />
<line x1="349.50" y1="217.50" x2="349.50" y2="235.20" stroke="#1a1a1a" stroke-width="0.9"/>
<rect x="348.50" y="235.50" width="3.00" height="4.00" fill="#666" stroke="#1a1a1a" stroke-width="0.9" rx="0.6" />
<rect x="346.50" y="239.50" width="7.00" height="9.00" fill="#fff" stroke="#1a1a1a" stroke-width="1.4" rx="1.4" />
<rect x="347.90" y="241.00" width="3.70" height="2.00" fill="#555" stroke="none" stroke-width="0" />
<rect x="347.90" y="244.60" width="3.70" height="2.00" fill="#aaa" stroke="none" stroke-width="0" />
<rect x="354.50" y="237.50" width="10.00" height="10.00" fill="#fff" stroke="#333" stroke-width="0.95" rx="0.3" />
<text x="359.50" y="245.56" font-size="8.079999999999997" text-anchor="middle" fill="#383838" font-weight="normal" stroke="#383838" stroke-width="0.12" textLength="8.32" lengthAdjust="spacingAndGlyphs">MC</text>
<text x="351.40" y="254.20" font-size="4.0" text-anchor="middle" fill="#4a4a4a" font-weight="normal" stroke="#4a4a4a" stroke-width="0.1" >STARTER</text>
<text x="351.40" y="258.70" font-size="4.0" text-anchor="middle" fill="#4a4a4a" font-weight="normal" stroke="#4a4a4a" stroke-width="0.1" >SOLENOID</text>
<rect x="379.6" y="113.8" width="13.0" height="15.4" fill="url(#braidL)"/>
<rect x="379.6" y="129.0" width="13.0" height="333.8" fill="url(#braidV)"/>
<line x1="379.50" y1="113.80" x2="379.50" y2="462.80" stroke="#1a1a1a" stroke-width="1.1"/>
<line x1="392.50" y1="113.80" x2="392.50" y2="462.80" stroke="#1a1a1a" stroke-width="1.1"/>
<line x1="379.60" y1="462.50" x2="392.60" y2="462.50" stroke="#1a1a1a" stroke-width="1.0"/>
<rect x="301.50" y="296.50" width="10.00" height="11.00" fill="#fff" stroke="#333" stroke-width="0.95" rx="0.3" />
<text x="306.20" y="304.86" font-size="8.640000000000056" text-anchor="middle" fill="#383838" font-weight="normal" stroke="#383838" stroke-width="0.12" textLength="8.08" lengthAdjust="spacingAndGlyphs">ML</text>
<path d="M315.80,293.40 L317.40,290.80 L330.30,290.80 L331.90,293.40" fill="#fff" stroke="#1a1a1a" stroke-width="1.0" />
<path d="M319.45,307.10 L321.05,309.70 L326.65,309.70 L328.25,307.10" fill="#fff" stroke="#1a1a1a" stroke-width="1.0" />
<ellipse cx="314.40" cy="299.85" rx="1.5" ry="3.2" fill="#fff" stroke="#1a1a1a" stroke-width="0.9"/>
<ellipse cx="333.30" cy="299.85" rx="1.5" ry="3.2" fill="#fff" stroke="#1a1a1a" stroke-width="0.9"/>
<rect x="314.50" y="292.50" width="19.00" height="15.00" fill="#fff" stroke="#1a1a1a" stroke-width="1.25" rx="4.6" />
<rect x="316.50" y="295.50" width="15.00" height="9.00" fill="#fff" stroke="#444" stroke-width="0.7" rx="1.4" />
<rect x="317.50" y="297.50" width="5.00" height="5.00" fill="#fff" stroke="#1a1a1a" stroke-width="1.1" />
<text x="319.95" y="301.20" font-size="3.3" text-anchor="middle" fill="#555" font-weight="normal" stroke="#555" stroke-width="0.1" >2</text>
<rect x="325.50" y="297.50" width="5.00" height="5.00" fill="#fff" stroke="#1a1a1a" stroke-width="1.1" />
<text x="328.00" y="301.20" font-size="3.3" text-anchor="middle" fill="#555" font-weight="normal" stroke="#555" stroke-width="0.1" >1</text>
<rect x="334.50" y="299.50" width="45.00" height="5.00" fill="#fff" stroke="#1a1a1a" stroke-width="1.0" />
<text x="311.80" y="315.70" font-size="4.0" text-anchor="middle" fill="#4a4a4a" font-weight="normal" stroke="#4a4a4a" stroke-width="0.1" >FUEL</text>
<text x="311.80" y="319.90" font-size="4.0" text-anchor="middle" fill="#4a4a4a" font-weight="normal" stroke="#4a4a4a" stroke-width="0.1" >SENDER</text>
<rect x="337.50" y="463.50" width="94.00" height="4.00" fill="#fff" stroke="#1a1a1a" stroke-width="1.0" />
<rect x="383.50" y="467.50" width="5.00" height="60.00" fill="#fff" stroke="#1a1a1a" stroke-width="1.0" />
<rect x="306.50" y="460.50" width="11.00" height="11.00" fill="#fff" stroke="#333" stroke-width="0.95" rx="0.3" />
<text x="312.25" y="469.30" font-size="8.480000000000018" text-anchor="middle" fill="#383838" font-weight="normal" stroke="#383838" stroke-width="0.12" textLength="8.48" lengthAdjust="spacingAndGlyphs">MJ</text>
<path d="M323.60,459.50 L324.70,456.50 L332.70,456.50 L333.80,459.50 Z" fill="#fff" stroke="#1a1a1a" stroke-width="1.0" />
<rect x="319.50" y="459.50" width="19.00" height="12.00" fill="#fff" stroke="#1a1a1a" stroke-width="1.1" rx="0.9" />
<circle cx="324.38" cy="465.12" r="1.05" fill="#eee" stroke="#1a1a1a" stroke-width="1.1"/>
<line x1="324.38" y1="466.42" x2="324.38" y2="468.02" stroke="#444" stroke-width="0.5"/>
<circle cx="333.02" cy="465.12" r="1.05" fill="#eee" stroke="#1a1a1a" stroke-width="1.1"/>
<line x1="333.02" y1="466.42" x2="333.02" y2="468.02" stroke="#444" stroke-width="0.5"/>
<text x="302.00" y="462.60" font-size="4.0" text-anchor="end" fill="#4a4a4a" font-weight="normal" stroke="#4a4a4a" stroke-width="0.1" >OIL</text>
<text x="302.00" y="467.30" font-size="4.0" text-anchor="end" fill="#4a4a4a" font-weight="normal" stroke="#4a4a4a" stroke-width="0.1" >PRESSURE</text>
<text x="302.00" y="472.00" font-size="4.0" text-anchor="end" fill="#4a4a4a" font-weight="normal" stroke="#4a4a4a" stroke-width="0.1" >SWITCH</text>
<rect x="431.50" y="463.50" width="7.00" height="5.00" fill="#fff" stroke="#1a1a1a" stroke-width="1.0" />
<circle cx="443.50" cy="465.80" r="5.20" fill="#fff" stroke="#1a1a1a" stroke-width="1.1"/>
<circle cx="443.50" cy="465.80" r="2.30" fill="#fff" stroke="#1a1a1a" stroke-width="0.9"/>
<text x="449.20" y="458.30" font-size="5.0" text-anchor="middle" fill="#4a4a4a" font-weight="normal" >M4</text>
<rect x="455.50" y="460.50" width="11.00" height="11.00" fill="#fff" stroke="#333" stroke-width="0.95" rx="0.3" />
<text x="461.25" y="469.18" font-size="8.960000000000036" text-anchor="middle" fill="#383838" font-weight="normal" stroke="#383838" stroke-width="0.12" textLength="8.96" lengthAdjust="spacingAndGlyphs">MH</text>
<text x="469.00" y="465.00" font-size="4.0" text-anchor="start" fill="#4a4a4a" font-weight="normal" stroke="#4a4a4a" stroke-width="0.1" >GLOW</text>
<text x="469.00" y="470.00" font-size="4.0" text-anchor="start" fill="#4a4a4a" font-weight="normal" stroke="#4a4a4a" stroke-width="0.1" >PLUG</text>
<path d="M381.90,527.50 L383.00,524.50 L389.60,524.50 L390.70,527.50 Z" fill="#fff" stroke="#1a1a1a" stroke-width="1.0" />
<rect x="377.50" y="527.50" width="18.00" height="13.00" fill="#fff" stroke="#1a1a1a" stroke-width="1.1" rx="0.9" />
<circle cx="382.02" cy="533.22" r="1.05" fill="#eee" stroke="#1a1a1a" stroke-width="1.1"/>
<line x1="382.02" y1="534.52" x2="382.02" y2="536.12" stroke="#444" stroke-width="0.5"/>
<circle cx="390.58" cy="533.22" r="1.05" fill="#eee" stroke="#1a1a1a" stroke-width="1.1"/>
<line x1="390.58" y1="534.52" x2="390.58" y2="536.12" stroke="#444" stroke-width="0.5"/>
<rect x="380.50" y="542.50" width="11.00" height="10.00" fill="#fff" stroke="#333" stroke-width="0.95" rx="0.3" />
<text x="386.15" y="550.77" font-size="8.240000000000055" text-anchor="middle" fill="#383838" font-weight="normal" stroke="#383838" stroke-width="0.12" textLength="8.48" lengthAdjust="spacingAndGlyphs">MG</text>
<text x="385.80" y="556.80" font-size="3.3" text-anchor="middle" fill="#4a4a4a" font-weight="normal" stroke="#4a4a4a" stroke-width="0.1" >ESOS</text>
<path d="M470.8,113.8 V404.2" fill="none" stroke="#1a1a1a" stroke-width="5.7"/>
<path d="M470.8,113.8 V404.2" fill="none" stroke="#fff" stroke-width="3.8000000000000003"/>
<path d="M468.70,113.80 L472.90,117.80 L468.70,121.80 L472.90,125.80 L468.70,129.80 L472.90,133.80 L468.70,137.80 L472.90,141.80 L468.70,145.80 L472.90,149.80 L468.70,153.80 L472.90,157.80 L468.70,161.80 L472.90,165.80 L468.70,169.80 L472.90,173.80 L468.70,177.80 L472.90,181.80 L468.70,185.80 L472.90,189.80 L468.70,193.80 L472.90,197.80 L468.70,201.80 L472.90,205.80 L468.70,209.80 L472.90,213.80 L468.70,217.80 L472.90,221.80 L468.70,225.80 L472.90,229.80 L468.70,233.80 L472.90,237.80 L468.70,241.80 L472.90,245.80 L468.70,249.80 L472.90,253.80 L468.70,257.80 L472.90,261.80 L468.70,265.80 L472.90,269.80 L468.70,273.80 L472.90,277.80 L468.70,281.80 L472.90,285.80 L468.70,289.80 L472.90,293.80 L468.70,297.80 L472.90,301.80 L468.70,305.80 L472.90,309.80 L468.70,313.80 L472.90,317.80 L468.70,321.80 L472.90,325.80 L468.70,329.80 L472.90,333.80 L468.70,337.80 L472.90,341.80 L468.70,345.80 L472.90,349.80 L468.70,353.80 L472.90,357.80 L468.70,361.80 L472.90,365.80 L468.70,369.80 L472.90,373.80 L468.70,377.80 L472.90,381.80 L468.70,385.80 L472.90,389.80 L468.70,393.80 L472.90,397.80 L468.70,401.80 L471.22,404.20" fill="none" stroke="#1a1a1a" stroke-width="1.15" stroke-linejoin="miter"/>
<path d="M472.90,113.80 L468.70,117.80 L472.90,121.80 L468.70,125.80 L472.90,129.80 L468.70,133.80 L472.90,137.80 L468.70,141.80 L472.90,145.80 L468.70,149.80 L472.90,153.80 L468.70,157.80 L472.90,161.80 L468.70,165.80 L472.90,169.80 L468.70,173.80 L472.90,177.80 L468.70,181.80 L472.90,185.80 L468.70,189.80 L472.90,193.80 L468.70,197.80 L472.90,201.80 L468.70,205.80 L472.90,209.80 L468.70,213.80 L472.90,217.80 L468.70,221.80 L472.90,225.80 L468.70,229.80 L472.90,233.80 L468.70,237.80 L472.90,241.80 L468.70,245.80 L472.90,249.80 L468.70,253.80 L472.90,257.80 L468.70,261.80 L472.90,265.80 L468.70,269.80 L472.90,273.80 L468.70,277.80 L472.90,281.80 L468.70,285.80 L472.90,289.80 L468.70,293.80 L472.90,297.80 L468.70,301.80 L472.90,305.80 L468.70,309.80 L472.90,313.80 L468.70,317.80 L472.90,321.80 L468.70,325.80 L472.90,329.80 L468.70,333.80 L472.90,337.80 L468.70,341.80 L472.90,345.80 L468.70,349.80 L472.90,353.80 L468.70,357.80 L472.90,361.80 L468.70,365.80 L472.90,369.80 L468.70,373.80 L472.90,377.80 L468.70,381.80 L472.90,385.80 L468.70,389.80 L472.90,393.80 L468.70,397.80 L472.90,401.80 L470.38,404.20" fill="none" stroke="#1a1a1a" stroke-width="1.15" stroke-linejoin="miter"/>
<path d="M466.00,407.00 L467.10,404.00 L474.50,404.00 L475.60,407.00 Z" fill="#fff" stroke="#1a1a1a" stroke-width="1.0" />
<rect x="461.50" y="406.50" width="19.00" height="12.00" fill="#fff" stroke="#1a1a1a" stroke-width="1.1" rx="0.9" />
<circle cx="466.52" cy="412.29" r="1.05" fill="#eee" stroke="#1a1a1a" stroke-width="1.1"/>
<line x1="466.52" y1="413.59" x2="466.52" y2="415.19" stroke="#444" stroke-width="0.5"/>
<circle cx="475.08" cy="412.29" r="1.05" fill="#eee" stroke="#1a1a1a" stroke-width="1.1"/>
<line x1="475.08" y1="413.59" x2="475.08" y2="415.19" stroke="#444" stroke-width="0.5"/>
<rect x="482.50" y="407.50" width="12.00" height="11.00" fill="#fff" stroke="#333" stroke-width="0.95" rx="0.3" />
<text x="488.10" y="416.16" font-size="8.640000000000056" text-anchor="middle" fill="#383838" font-weight="normal" stroke="#383838" stroke-width="0.12" textLength="9.52" lengthAdjust="spacingAndGlyphs">MM</text>
<text x="497.00" y="411.80" font-size="4.0" text-anchor="start" fill="#4a4a4a" font-weight="normal" stroke="#4a4a4a" stroke-width="0.1" >BOOM</text>
<text x="497.00" y="416.00" font-size="4.0" text-anchor="start" fill="#4a4a4a" font-weight="normal" stroke="#4a4a4a" stroke-width="0.1" >LIGHT</text>
<rect x="473.50" y="362.50" width="51.00" height="3.00" fill="#fff" stroke="#1a1a1a" stroke-width="1.0" />
<path d="M484.6,347.5 L491.3,345.6 L494.5,362.3 L488.2,363.1 Z" fill="#fff" stroke="#1a1a1a" stroke-width="1.0" />
<path d="M495.2,346.2 L502.3,349.0 L496.8,363.9 L489.8,362.3 Z" fill="#fff" stroke="#1a1a1a" stroke-width="1.0" />
<text x="0.00" y="0.00" font-size="2.6" text-anchor="middle" fill="#666" font-weight="normal" stroke="#666" stroke-width="0.1" transform="translate(497.0,361.5) rotate(-70)" text-anchor="start">SPEED</text>
<path d="M528.15,358.60 L529.25,355.60 L537.25,355.60 L538.35,358.60 Z" fill="#fff" stroke="#1a1a1a" stroke-width="1.0" />
<rect x="524.50" y="358.50" width="18.00" height="11.00" fill="#fff" stroke="#1a1a1a" stroke-width="1.1" rx="0.9" />
<circle cx="529.04" cy="363.66" r="1.05" fill="#eee" stroke="#1a1a1a" stroke-width="1.1"/>
<line x1="529.04" y1="364.96" x2="529.04" y2="366.56" stroke="#444" stroke-width="0.5"/>
<circle cx="537.46" cy="363.66" r="1.05" fill="#eee" stroke="#1a1a1a" stroke-width="1.1"/>
<line x1="537.46" y1="364.96" x2="537.46" y2="366.56" stroke="#444" stroke-width="0.5"/>
<rect x="527.50" y="370.50" width="11.00" height="11.00" fill="#fff" stroke="#333" stroke-width="0.95" rx="0.3" />
<text x="532.90" y="379.38" font-size="8.560000000000036" text-anchor="middle" fill="#383838" font-weight="normal" stroke="#383838" stroke-width="0.12" textLength="8.72" lengthAdjust="spacingAndGlyphs">MR</text>
<text x="531.20" y="387.20" font-size="4.0" text-anchor="middle" fill="#4a4a4a" font-weight="normal" stroke="#4a4a4a" stroke-width="0.1" >2 SPEED</text>
<text x="531.20" y="392.00" font-size="4.0" text-anchor="middle" fill="#4a4a4a" font-weight="normal" stroke="#4a4a4a" stroke-width="0.1" >SWITCH</text>
<text x="508.40" y="167.80" font-size="4.0" text-anchor="middle" fill="#4a4a4a" font-weight="normal" stroke="#4a4a4a" stroke-width="0.1" >WASHER</text>
<text x="508.40" y="171.90" font-size="4.0" text-anchor="middle" fill="#4a4a4a" font-weight="normal" stroke="#4a4a4a" stroke-width="0.1" >PUMP</text>
<rect x="502.50" y="174.50" width="11.00" height="11.00" fill="#fff" stroke="#333" stroke-width="0.95" rx="0.3" />
<text x="507.60" y="183.04" font-size="8.719999999999983" text-anchor="middle" fill="#383838" font-weight="normal" stroke="#383838" stroke-width="0.12" textLength="8.72" lengthAdjust="spacingAndGlyphs">PK</text>
<rect x="503.50" y="195.50" width="8.00" height="11.00" fill="#fff" stroke="#1a1a1a" stroke-width="1.0" rx="0.6" />
<rect x="505.50" y="198.50" width="4.00" height="6.00" fill="#fff" stroke="#1a1a1a" stroke-width="0.8" rx="0.4" />
<rect x="499.50" y="188.50" width="17.00" height="8.00" fill="#fff" stroke="#1a1a1a" stroke-width="1.0" rx="0.6" />
<rect x="502.50" y="190.50" width="10.00" height="4.00" fill="#fff" stroke="#1a1a1a" stroke-width="0.7" />
<text x="507.60" y="193.50" font-size="2.6" text-anchor="middle" fill="#666" font-weight="normal" stroke="#666" stroke-width="0.1" >2-</text>
<rect x="515.50" y="190.50" width="92.00" height="4.00" fill="#fff" stroke="#1a1a1a" stroke-width="1.0" />
<line x1="586.50" y1="190.90" x2="586.50" y2="194.40" stroke="#1a1a1a" stroke-width="0.7"/>
<line x1="589.50" y1="190.90" x2="589.50" y2="194.40" stroke="#1a1a1a" stroke-width="0.7"/>
<rect x="558.50" y="113.50" width="12.00" height="16.00" fill="#fff" stroke="#1a1a1a" stroke-width="1.0" />
<rect x="561.10" y="129.30" width="6.80" height="61.60" fill="#c8c8c8" stroke="#111" stroke-width="1.0"/>
<rect x="560.10" y="130.53" width="8.80" height="1.99" rx="1.1" fill="#7c7c7c" stroke="#111" stroke-width="0.9"/>
<rect x="560.10" y="133.96" width="8.80" height="1.99" rx="1.1" fill="#7c7c7c" stroke="#111" stroke-width="0.9"/>
<rect x="560.10" y="137.38" width="8.80" height="1.99" rx="1.1" fill="#7c7c7c" stroke="#111" stroke-width="0.9"/>
<rect x="560.10" y="140.80" width="8.80" height="1.99" rx="1.1" fill="#7c7c7c" stroke="#111" stroke-width="0.9"/>
<rect x="560.10" y="144.22" width="8.80" height="1.99" rx="1.1" fill="#7c7c7c" stroke="#111" stroke-width="0.9"/>
<rect x="560.10" y="147.64" width="8.80" height="1.99" rx="1.1" fill="#7c7c7c" stroke="#111" stroke-width="0.9"/>
<rect x="560.10" y="151.07" width="8.80" height="1.99" rx="1.1" fill="#7c7c7c" stroke="#111" stroke-width="0.9"/>
<rect x="560.10" y="154.49" width="8.80" height="1.99" rx="1.1" fill="#7c7c7c" stroke="#111" stroke-width="0.9"/>
<rect x="560.10" y="157.91" width="8.80" height="1.99" rx="1.1" fill="#7c7c7c" stroke="#111" stroke-width="0.9"/>
<rect x="560.10" y="161.33" width="8.80" height="1.99" rx="1.1" fill="#7c7c7c" stroke="#111" stroke-width="0.9"/>
<rect x="560.10" y="164.76" width="8.80" height="1.99" rx="1.1" fill="#7c7c7c" stroke="#111" stroke-width="0.9"/>
<rect x="560.10" y="168.18" width="8.80" height="1.99" rx="1.1" fill="#7c7c7c" stroke="#111" stroke-width="0.9"/>
<rect x="560.10" y="171.60" width="8.80" height="1.99" rx="1.1" fill="#7c7c7c" stroke="#111" stroke-width="0.9"/>
<rect x="560.10" y="175.02" width="8.80" height="1.99" rx="1.1" fill="#7c7c7c" stroke="#111" stroke-width="0.9"/>
<rect x="560.10" y="178.44" width="8.80" height="1.99" rx="1.1" fill="#7c7c7c" stroke="#111" stroke-width="0.9"/>
<rect x="560.10" y="181.87" width="8.80" height="1.99" rx="1.1" fill="#7c7c7c" stroke="#111" stroke-width="0.9"/>
<rect x="560.10" y="185.29" width="8.80" height="1.99" rx="1.1" fill="#7c7c7c" stroke="#111" stroke-width="0.9"/>
<rect x="560.10" y="188.71" width="8.80" height="1.99" rx="1.1" fill="#7c7c7c" stroke="#111" stroke-width="0.9"/>
<line x1="564.50" y1="129.30" x2="564.50" y2="190.90" stroke="#222" stroke-width="0.9"/>
<rect x="562.50" y="194.50" width="3.00" height="60.00" fill="#fff" stroke="#1a1a1a" stroke-width="1.0" />
<line x1="562.40" y1="222.50" x2="565.90" y2="222.50" stroke="#1a1a1a" stroke-width="0.7"/>
<rect x="549.50" y="260.50" width="3.00" height="6.00" fill="#ddd" stroke="#1a1a1a" stroke-width="0.8" />
<rect x="576.60" y="260.70" width="2.20" height="6.20" fill="#ddd" stroke="#1a1a1a" stroke-width="0.8" />
<path d="M548.2,258.50 L552.2,259.90 M580.2,258.50 L576.6,259.90" stroke="#1a1a1a" stroke-width="1.0" fill="none"/>
<path d="M548.2,269.10 L552.2,267.70 M580.2,269.10 L576.6,267.70" stroke="#1a1a1a" stroke-width="1.0" fill="none"/>
<rect x="549.50" y="304.50" width="3.00" height="6.00" fill="#ddd" stroke="#1a1a1a" stroke-width="0.8" />
<rect x="576.60" y="304.80" width="2.20" height="5.90" fill="#ddd" stroke="#1a1a1a" stroke-width="0.8" />
<path d="M548.2,302.60 L552.2,304.00 M580.2,302.60 L576.6,304.00" stroke="#1a1a1a" stroke-width="1.0" fill="none"/>
<path d="M548.2,312.90 L552.2,311.50 M580.2,312.90 L576.6,311.50" stroke="#1a1a1a" stroke-width="1.0" fill="none"/>
<rect x="553.50" y="251.50" width="5.00" height="4.00" fill="#fff" stroke="#1a1a1a" stroke-width="1.0" />
<rect x="570.50" y="251.50" width="6.00" height="4.00" fill="#fff" stroke="#1a1a1a" stroke-width="1.0" />
<rect x="552.50" y="254.50" width="24.00" height="62.00" fill="#fff" stroke="#1a1a1a" stroke-width="1.2" />
<line x1="564.50" y1="254.80" x2="564.50" y2="316.30" stroke="#1a1a1a" stroke-width="0.8"/>
<rect x="554.6" y="258.10" width="8.1" height="3.8" rx="1.0" fill="#fff" stroke="#1a1a1a" stroke-width="1.05"/>
<rect x="566.3" y="258.10" width="8.2" height="3.8" rx="1.0" fill="#fff" stroke="#1a1a1a" stroke-width="1.05"/>
<rect x="556.6" y="259.40" width="4.2" height="1.4" fill="#b4b4b4"/>
<rect x="568.3" y="259.40" width="4.3" height="1.4" fill="#b4b4b4"/>
<rect x="554.6" y="263.97" width="8.1" height="3.8" rx="1.0" fill="#fff" stroke="#1a1a1a" stroke-width="1.05"/>
<rect x="566.3" y="263.97" width="8.2" height="3.8" rx="1.0" fill="#fff" stroke="#1a1a1a" stroke-width="1.05"/>
<rect x="556.6" y="265.27" width="4.2" height="1.4" fill="#b4b4b4"/>
<rect x="568.3" y="265.27" width="4.3" height="1.4" fill="#b4b4b4"/>
<rect x="554.6" y="269.84" width="8.1" height="3.8" rx="1.0" fill="#fff" stroke="#1a1a1a" stroke-width="1.05"/>
<rect x="566.3" y="269.84" width="8.2" height="3.8" rx="1.0" fill="#fff" stroke="#1a1a1a" stroke-width="1.05"/>
<rect x="556.6" y="271.14" width="4.2" height="1.4" fill="#b4b4b4"/>
<rect x="568.3" y="271.14" width="4.3" height="1.4" fill="#b4b4b4"/>
<rect x="554.6" y="275.71" width="8.1" height="3.8" rx="1.0" fill="#fff" stroke="#1a1a1a" stroke-width="1.05"/>
<rect x="566.3" y="275.71" width="8.2" height="3.8" rx="1.0" fill="#fff" stroke="#1a1a1a" stroke-width="1.05"/>
<rect x="556.6" y="277.01" width="4.2" height="1.4" fill="#b4b4b4"/>
<rect x="568.3" y="277.01" width="4.3" height="1.4" fill="#b4b4b4"/>
<rect x="554.6" y="281.58" width="8.1" height="3.8" rx="1.0" fill="#fff" stroke="#1a1a1a" stroke-width="1.05"/>
<rect x="566.3" y="281.58" width="8.2" height="3.8" rx="1.0" fill="#fff" stroke="#1a1a1a" stroke-width="1.05"/>
<rect x="556.6" y="282.88" width="4.2" height="1.4" fill="#b4b4b4"/>
<rect x="568.3" y="282.88" width="4.3" height="1.4" fill="#b4b4b4"/>
<rect x="554.6" y="287.45" width="8.1" height="3.8" rx="1.0" fill="#fff" stroke="#1a1a1a" stroke-width="1.05"/>
<rect x="566.3" y="287.45" width="8.2" height="3.8" rx="1.0" fill="#fff" stroke="#1a1a1a" stroke-width="1.05"/>
<rect x="556.6" y="288.75" width="4.2" height="1.4" fill="#b4b4b4"/>
<rect x="568.3" y="288.75" width="4.3" height="1.4" fill="#b4b4b4"/>
<rect x="554.6" y="293.32" width="8.1" height="3.8" rx="1.0" fill="#fff" stroke="#1a1a1a" stroke-width="1.05"/>
<rect x="566.3" y="293.32" width="8.2" height="3.8" rx="1.0" fill="#fff" stroke="#1a1a1a" stroke-width="1.05"/>
<rect x="556.6" y="294.62" width="4.2" height="1.4" fill="#b4b4b4"/>
<rect x="568.3" y="294.62" width="4.3" height="1.4" fill="#b4b4b4"/>
<rect x="554.6" y="299.19" width="8.1" height="3.8" rx="1.0" fill="#fff" stroke="#1a1a1a" stroke-width="1.05"/>
<rect x="566.3" y="299.19" width="8.2" height="3.8" rx="1.0" fill="#fff" stroke="#1a1a1a" stroke-width="1.05"/>
<rect x="556.6" y="300.49" width="4.2" height="1.4" fill="#b4b4b4"/>
<rect x="568.3" y="300.49" width="4.3" height="1.4" fill="#b4b4b4"/>
<rect x="554.6" y="305.06" width="8.1" height="3.8" rx="1.0" fill="#fff" stroke="#1a1a1a" stroke-width="1.05"/>
<rect x="566.3" y="305.06" width="8.2" height="3.8" rx="1.0" fill="#fff" stroke="#1a1a1a" stroke-width="1.05"/>
<rect x="556.6" y="306.36" width="4.2" height="1.4" fill="#b4b4b4"/>
<rect x="568.3" y="306.36" width="4.3" height="1.4" fill="#b4b4b4"/>
<rect x="554.6" y="310.93" width="8.1" height="3.8" rx="1.0" fill="#fff" stroke="#1a1a1a" stroke-width="1.05"/>
<rect x="566.3" y="310.93" width="8.2" height="3.8" rx="1.0" fill="#fff" stroke="#1a1a1a" stroke-width="1.05"/>
<rect x="556.6" y="312.23" width="4.2" height="1.4" fill="#b4b4b4"/>
<rect x="568.3" y="312.23" width="4.3" height="1.4" fill="#b4b4b4"/>
<rect x="556.50" y="316.50" width="14.00" height="8.00" fill="#fff" stroke="#1a1a1a" stroke-width="1.1" rx="0.8" />
<rect x="558.50" y="319.50" width="10.00" height="3.00" fill="#fff" stroke="#1a1a1a" stroke-width="1.0" rx="0.5" />
<text x="531.60" y="290.80" font-size="4.0" text-anchor="end" fill="#4a4a4a" font-weight="normal" stroke="#4a4a4a" stroke-width="0.1" >FUSEBOX</text>
<rect x="537.50" y="283.50" width="12.00" height="11.00" fill="#fff" stroke="#333" stroke-width="0.95" rx="0.3" />
<text x="543.70" y="291.82" font-size="8.800000000000045" text-anchor="middle" fill="#383838" font-weight="normal" stroke="#383838" stroke-width="0.12" textLength="9.52" lengthAdjust="spacingAndGlyphs">MS</text>
<text x="614.60" y="158.80" font-size="4.0" text-anchor="middle" fill="#4a4a4a" font-weight="normal" stroke="#4a4a4a" stroke-width="0.1" >LATCHING</text>
<text x="614.60" y="163.40" font-size="4.0" text-anchor="middle" fill="#4a4a4a" font-weight="normal" stroke="#4a4a4a" stroke-width="0.1" >RELAY</text>
<rect x="611.50" y="164.50" width="11.00" height="10.00" fill="#fff" stroke="#333" stroke-width="0.95" rx="0.3" />
<text x="617.05" y="172.64" font-size="8.719999999999983" text-anchor="middle" fill="#383838" font-weight="normal" stroke="#383838" stroke-width="0.12" textLength="9.12" lengthAdjust="spacingAndGlyphs">NT</text>
<rect x="612.50" y="176.50" width="9.00" height="5.00" fill="#333" stroke="#1a1a1a" stroke-width="0.6" />
<rect x="614.60" y="177.60" width="1.80" height="2.00" fill="#999" stroke="none" stroke-width="0" />
<rect x="617.80" y="177.60" width="1.80" height="2.00" fill="#999" stroke="none" stroke-width="0" />
<rect x="607.50" y="181.50" width="20.00" height="22.00" fill="#fff" stroke="#1a1a1a" stroke-width="1.2" />
<rect x="609.50" y="186.50" width="5.00" height="5.00" fill="#a8a8a8" stroke="#333" stroke-width="0.8" />
<rect x="615.50" y="186.50" width="4.00" height="5.00" fill="#a8a8a8" stroke="#333" stroke-width="0.8" />
<rect x="622.50" y="186.50" width="4.00" height="5.00" fill="#a8a8a8" stroke="#333" stroke-width="0.8" />
<rect x="615.50" y="192.50" width="4.00" height="5.00" fill="#a8a8a8" stroke="#333" stroke-width="0.8" />
<rect x="609.50" y="197.50" width="4.00" height="5.00" fill="#a8a8a8" stroke="#333" stroke-width="0.8" />
<rect x="622.50" y="197.50" width="4.00" height="5.00" fill="#a8a8a8" stroke="#333" stroke-width="0.8" />
<rect x="593.50" y="254.50" width="10.00" height="5.00" fill="#333" stroke="#1a1a1a" stroke-width="0.8" rx="1" />
<rect x="595.20" y="255.80" width="6.20" height="1.80" fill="#e8e8e8" stroke="none" stroke-width="0" />
<rect x="591.50" y="258.50" width="14.00" height="14.00" fill="#fff" stroke="#1a1a1a" stroke-width="1.1" rx="2.8" />
<circle cx="595.20" cy="261.50" r="1.05" fill="#fff" stroke="#1a1a1a" stroke-width="0.9"/>
<circle cx="601.60" cy="261.50" r="1.05" fill="#fff" stroke="#1a1a1a" stroke-width="0.9"/>
<circle cx="595.00" cy="265.40" r="1.05" fill="#fff" stroke="#1a1a1a" stroke-width="0.9"/>
<circle cx="601.80" cy="265.40" r="1.05" fill="#fff" stroke="#1a1a1a" stroke-width="0.9"/>
<circle cx="595.20" cy="269.40" r="1.05" fill="#fff" stroke="#1a1a1a" stroke-width="0.9"/>
<circle cx="601.60" cy="269.40" r="1.05" fill="#fff" stroke="#1a1a1a" stroke-width="0.9"/>
<ellipse cx="598.45" cy="265.4" rx="0.85" ry="2.1" fill="#999" stroke="#1a1a1a" stroke-width="0.6"/>
<rect x="605.0" y="262.8" width="1.4" height="5.0" fill="#333"/>
<rect x="606.50" y="263.50" width="38.00" height="4.00" fill="#fff" stroke="#1a1a1a" stroke-width="1.0" />
<rect x="592.50" y="275.50" width="8.00" height="9.00" fill="#fff" stroke="#333" stroke-width="0.95" rx="0.3" />
<text x="596.30" y="282.25" font-size="6.800000000000046" text-anchor="middle" fill="#383838" font-weight="normal" stroke="#383838" stroke-width="0.12" textLength="6.80" lengthAdjust="spacingAndGlyphs">NG</text>
<text x="594.80" y="287.80" font-size="4.0" text-anchor="middle" fill="#4a4a4a" font-weight="normal" stroke="#4a4a4a" stroke-width="0.1" >AUX/ISS</text>
<text x="594.80" y="291.90" font-size="4.0" text-anchor="middle" fill="#4a4a4a" font-weight="normal" stroke="#4a4a4a" stroke-width="0.1" >BUTTONS</text>
<rect x="641.50" y="113.50" width="12.00" height="16.00" fill="#fff" stroke="#1a1a1a" stroke-width="1.0" />
<rect x="644.20" y="129.30" width="6.50" height="95.50" fill="#c8c8c8" stroke="#111" stroke-width="1.0"/>
<rect x="643.20" y="130.53" width="8.50" height="1.98" rx="1.1" fill="#7c7c7c" stroke="#111" stroke-width="0.9"/>
<rect x="643.20" y="133.94" width="8.50" height="1.98" rx="1.1" fill="#7c7c7c" stroke="#111" stroke-width="0.9"/>
<rect x="643.20" y="137.35" width="8.50" height="1.98" rx="1.1" fill="#7c7c7c" stroke="#111" stroke-width="0.9"/>
<rect x="643.20" y="140.76" width="8.50" height="1.98" rx="1.1" fill="#7c7c7c" stroke="#111" stroke-width="0.9"/>
<rect x="643.20" y="144.17" width="8.50" height="1.98" rx="1.1" fill="#7c7c7c" stroke="#111" stroke-width="0.9"/>
<rect x="643.20" y="147.58" width="8.50" height="1.98" rx="1.1" fill="#7c7c7c" stroke="#111" stroke-width="0.9"/>
<rect x="643.20" y="150.99" width="8.50" height="1.98" rx="1.1" fill="#7c7c7c" stroke="#111" stroke-width="0.9"/>
<rect x="643.20" y="154.40" width="8.50" height="1.98" rx="1.1" fill="#7c7c7c" stroke="#111" stroke-width="0.9"/>
<rect x="643.20" y="157.82" width="8.50" height="1.98" rx="1.1" fill="#7c7c7c" stroke="#111" stroke-width="0.9"/>
<rect x="643.20" y="161.23" width="8.50" height="1.98" rx="1.1" fill="#7c7c7c" stroke="#111" stroke-width="0.9"/>
<rect x="643.20" y="164.64" width="8.50" height="1.98" rx="1.1" fill="#7c7c7c" stroke="#111" stroke-width="0.9"/>
<rect x="643.20" y="168.05" width="8.50" height="1.98" rx="1.1" fill="#7c7c7c" stroke="#111" stroke-width="0.9"/>
<rect x="643.20" y="171.46" width="8.50" height="1.98" rx="1.1" fill="#7c7c7c" stroke="#111" stroke-width="0.9"/>
<rect x="643.20" y="174.87" width="8.50" height="1.98" rx="1.1" fill="#7c7c7c" stroke="#111" stroke-width="0.9"/>
<rect x="643.20" y="178.28" width="8.50" height="1.98" rx="1.1" fill="#7c7c7c" stroke="#111" stroke-width="0.9"/>
<rect x="643.20" y="181.69" width="8.50" height="1.98" rx="1.1" fill="#7c7c7c" stroke="#111" stroke-width="0.9"/>
<rect x="643.20" y="185.10" width="8.50" height="1.98" rx="1.1" fill="#7c7c7c" stroke="#111" stroke-width="0.9"/>
<rect x="643.20" y="188.51" width="8.50" height="1.98" rx="1.1" fill="#7c7c7c" stroke="#111" stroke-width="0.9"/>
<rect x="643.20" y="191.92" width="8.50" height="1.98" rx="1.1" fill="#7c7c7c" stroke="#111" stroke-width="0.9"/>
<rect x="643.20" y="195.33" width="8.50" height="1.98" rx="1.1" fill="#7c7c7c" stroke="#111" stroke-width="0.9"/>
<rect x="643.20" y="198.74" width="8.50" height="1.98" rx="1.1" fill="#7c7c7c" stroke="#111" stroke-width="0.9"/>
<rect x="643.20" y="202.15" width="8.50" height="1.98" rx="1.1" fill="#7c7c7c" stroke="#111" stroke-width="0.9"/>
<rect x="643.20" y="205.57" width="8.50" height="1.98" rx="1.1" fill="#7c7c7c" stroke="#111" stroke-width="0.9"/>
<rect x="643.20" y="208.98" width="8.50" height="1.98" rx="1.1" fill="#7c7c7c" stroke="#111" stroke-width="0.9"/>
<rect x="643.20" y="212.39" width="8.50" height="1.98" rx="1.1" fill="#7c7c7c" stroke="#111" stroke-width="0.9"/>
<rect x="643.20" y="215.80" width="8.50" height="1.98" rx="1.1" fill="#7c7c7c" stroke="#111" stroke-width="0.9"/>
<rect x="643.20" y="219.21" width="8.50" height="1.98" rx="1.1" fill="#7c7c7c" stroke="#111" stroke-width="0.9"/>
<rect x="643.20" y="222.62" width="8.50" height="1.98" rx="1.1" fill="#7c7c7c" stroke="#111" stroke-width="0.9"/>
<line x1="647.45" y1="129.30" x2="647.45" y2="224.80" stroke="#222" stroke-width="0.9"/>
<rect x="644.50" y="224.50" width="5.00" height="160.00" fill="#fff" stroke="#1a1a1a" stroke-width="1.0" />
<line x1="644.50" y1="240.50" x2="649.90" y2="240.50" stroke="#1a1a1a" stroke-width="0.7"/>
<rect x="649.50" y="263.50" width="36.00" height="3.00" fill="#fff" stroke="#1a1a1a" stroke-width="1.0" />
<line x1="676.50" y1="263.30" x2="676.50" y2="266.90" stroke="#1a1a1a" stroke-width="0.7"/>
<line x1="678.50" y1="263.30" x2="678.50" y2="266.90" stroke="#1a1a1a" stroke-width="0.7"/>
<rect x="649.50" y="314.50" width="36.00" height="3.00" fill="#fff" stroke="#1a1a1a" stroke-width="1.0" />
<line x1="676.50" y1="314.10" x2="676.50" y2="317.80" stroke="#1a1a1a" stroke-width="0.7"/>
<line x1="678.50" y1="314.10" x2="678.50" y2="317.80" stroke="#1a1a1a" stroke-width="0.7"/>
<rect x="612.50" y="365.50" width="73.00" height="3.00" fill="#fff" stroke="#1a1a1a" stroke-width="1.0" />
<line x1="618.50" y1="365.20" x2="618.50" y2="368.70" stroke="#1a1a1a" stroke-width="0.7"/>
<line x1="621.50" y1="365.20" x2="621.50" y2="368.70" stroke="#1a1a1a" stroke-width="0.7"/>
<line x1="677.50" y1="365.20" x2="677.50" y2="368.70" stroke="#1a1a1a" stroke-width="0.7"/>
<line x1="679.50" y1="365.20" x2="679.50" y2="368.70" stroke="#1a1a1a" stroke-width="0.7"/>
<rect x="644.50" y="224.50" width="5.00" height="160.00" fill="#fff" stroke="#1a1a1a" stroke-width="0.9" />
<line x1="644.50" y1="240.50" x2="649.90" y2="240.50" stroke="#1a1a1a" stroke-width="0.7"/>
<rect x="687.50" y="247.50" width="18.00" height="2.00" fill="#fff" stroke="#1a1a1a" stroke-width="0.9" rx="0.6" />
<rect x="685.50" y="249.50" width="22.00" height="32.00" fill="#fff" stroke="#1a1a1a" stroke-width="1.2" rx="1.0" />
<rect x="687.50" y="252.50" width="17.00" height="27.00" fill="#fff" stroke="#1a1a1a" stroke-width="1.2" />
<line x1="696.50" y1="252.60" x2="696.50" y2="279.00" stroke="#1a1a1a" stroke-width="1.3"/>
<text x="691.90" y="256.68" font-size="3.3" text-anchor="middle" fill="#666" font-weight="normal" stroke="#666" stroke-width="0.1" >10</text>
<text x="700.40" y="256.68" font-size="3.3" text-anchor="middle" fill="#666" font-weight="normal" stroke="#666" stroke-width="0.1" >9</text>
<line x1="687.60" y1="257.50" x2="704.60" y2="257.50" stroke="#1a1a1a" stroke-width="1.1"/>
<text x="691.90" y="261.96" font-size="3.3" text-anchor="middle" fill="#666" font-weight="normal" stroke="#666" stroke-width="0.1" >3</text>
<text x="700.40" y="261.96" font-size="3.3" text-anchor="middle" fill="#666" font-weight="normal" stroke="#666" stroke-width="0.1" >6</text>
<line x1="687.60" y1="263.50" x2="704.60" y2="263.50" stroke="#1a1a1a" stroke-width="1.1"/>
<text x="691.90" y="267.24" font-size="3.3" text-anchor="middle" fill="#666" font-weight="normal" stroke="#666" stroke-width="0.1" >2</text>
<text x="700.40" y="267.24" font-size="3.3" text-anchor="middle" fill="#666" font-weight="normal" stroke="#666" stroke-width="0.1" >5</text>
<line x1="687.60" y1="268.50" x2="704.60" y2="268.50" stroke="#1a1a1a" stroke-width="1.1"/>
<text x="691.90" y="272.52" font-size="3.3" text-anchor="middle" fill="#666" font-weight="normal" stroke="#666" stroke-width="0.1" >1</text>
<text x="700.40" y="272.52" font-size="3.3" text-anchor="middle" fill="#666" font-weight="normal" stroke="#666" stroke-width="0.1" >4</text>
<line x1="687.60" y1="273.50" x2="704.60" y2="273.50" stroke="#1a1a1a" stroke-width="1.1"/>
<text x="691.90" y="277.80" font-size="3.3" text-anchor="middle" fill="#666" font-weight="normal" stroke="#666" stroke-width="0.1" >8</text>
<text x="700.40" y="277.80" font-size="3.3" text-anchor="middle" fill="#666" font-weight="normal" stroke="#666" stroke-width="0.1" >7</text>
<rect x="688.50" y="282.50" width="7.00" height="7.00" fill="#fff" stroke="#333" stroke-width="0.95" rx="0.3" />
<text x="691.80" y="288.23" font-size="5.9200000000000275" text-anchor="middle" fill="#383838" font-weight="normal" stroke="#383838" stroke-width="0.12" textLength="5.28" lengthAdjust="spacingAndGlyphs">PA</text>
<rect x="696.50" y="282.50" width="9.00" height="7.00" fill="#3a3a3a" stroke="#1a1a1a" stroke-width="0.8" />
<rect x="699.40" y="283.80" width="2.40" height="4.80" fill="#ddd" stroke="none" stroke-width="0" />
<rect x="697.20" y="286.40" width="1.40" height="2.20" fill="#bbb" stroke="none" stroke-width="0" />
<rect x="702.60" y="286.40" width="1.40" height="2.20" fill="#bbb" stroke="none" stroke-width="0" />
<text x="695.80" y="292.80" font-size="3.8" text-anchor="middle" fill="#4a4a4a" font-weight="normal" stroke="#4a4a4a" stroke-width="0.1" >BEACON</text>
<rect x="687.20" y="298.10" width="17.80" height="2.40" fill="#fff" stroke="#1a1a1a" stroke-width="0.9" rx="0.6" />
<rect x="685.50" y="299.50" width="22.00" height="33.00" fill="#fff" stroke="#1a1a1a" stroke-width="1.2" rx="1.0" />
<rect x="687.50" y="303.50" width="17.00" height="26.00" fill="#fff" stroke="#1a1a1a" stroke-width="1.2" />
<line x1="696.50" y1="303.30" x2="696.50" y2="329.70" stroke="#1a1a1a" stroke-width="1.3"/>
<text x="691.90" y="307.38" font-size="3.3" text-anchor="middle" fill="#666" font-weight="normal" stroke="#666" stroke-width="0.1" >10</text>
<text x="700.40" y="307.38" font-size="3.3" text-anchor="middle" fill="#666" font-weight="normal" stroke="#666" stroke-width="0.1" >9</text>
<line x1="687.60" y1="308.50" x2="704.60" y2="308.50" stroke="#1a1a1a" stroke-width="1.1"/>
<text x="691.90" y="312.66" font-size="3.3" text-anchor="middle" fill="#666" font-weight="normal" stroke="#666" stroke-width="0.1" >3</text>
<text x="700.40" y="312.66" font-size="3.3" text-anchor="middle" fill="#666" font-weight="normal" stroke="#666" stroke-width="0.1" >6</text>
<line x1="687.60" y1="313.50" x2="704.60" y2="313.50" stroke="#1a1a1a" stroke-width="1.1"/>
<text x="691.90" y="317.94" font-size="3.3" text-anchor="middle" fill="#666" font-weight="normal" stroke="#666" stroke-width="0.1" >2</text>
<text x="700.40" y="317.94" font-size="3.3" text-anchor="middle" fill="#666" font-weight="normal" stroke="#666" stroke-width="0.1" >5</text>
<line x1="687.60" y1="319.50" x2="704.60" y2="319.50" stroke="#1a1a1a" stroke-width="1.1"/>
<text x="691.90" y="323.22" font-size="3.3" text-anchor="middle" fill="#666" font-weight="normal" stroke="#666" stroke-width="0.1" >1</text>
<text x="700.40" y="323.22" font-size="3.3" text-anchor="middle" fill="#666" font-weight="normal" stroke="#666" stroke-width="0.1" >4</text>
<line x1="687.60" y1="324.50" x2="704.60" y2="324.50" stroke="#1a1a1a" stroke-width="1.1"/>
<text x="691.90" y="328.50" font-size="3.3" text-anchor="middle" fill="#666" font-weight="normal" stroke="#666" stroke-width="0.1" >8</text>
<text x="700.40" y="328.50" font-size="3.3" text-anchor="middle" fill="#666" font-weight="normal" stroke="#666" stroke-width="0.1" >7</text>
<rect x="688.50" y="333.50" width="7.00" height="7.00" fill="#fff" stroke="#333" stroke-width="0.95" rx="0.3" />
<text x="691.80" y="338.93" font-size="5.919999999999982" text-anchor="middle" fill="#383838" font-weight="normal" stroke="#383838" stroke-width="0.12" textLength="5.28" lengthAdjust="spacingAndGlyphs">PE</text>
<rect x="696.50" y="333.50" width="9.00" height="7.00" fill="#fff" stroke="#1a1a1a" stroke-width="0.8" />
<path d="M696.8,340.0 L699.8,337.0 L701.2,338.2 L704.4,334.2 L704.4,340.0 Z" fill="#333" stroke="#1a1a1a" stroke-width="0.3" />
<text x="695.60" y="344.20" font-size="3.8" text-anchor="middle" fill="#4a4a4a" font-weight="normal" stroke="#4a4a4a" stroke-width="0.1" >WORKLIGHTS</text>
<rect x="687.20" y="349.10" width="17.80" height="2.40" fill="#fff" stroke="#1a1a1a" stroke-width="0.9" rx="0.6" />
<rect x="685.50" y="350.50" width="22.00" height="33.00" fill="#fff" stroke="#1a1a1a" stroke-width="1.2" rx="1.0" />
<rect x="687.50" y="354.50" width="17.00" height="26.00" fill="#fff" stroke="#1a1a1a" stroke-width="1.2" />
<line x1="696.50" y1="354.30" x2="696.50" y2="380.70" stroke="#1a1a1a" stroke-width="1.3"/>
<text x="691.90" y="358.38" font-size="3.3" text-anchor="middle" fill="#666" font-weight="normal" stroke="#666" stroke-width="0.1" >10</text>
<text x="700.40" y="358.38" font-size="3.3" text-anchor="middle" fill="#666" font-weight="normal" stroke="#666" stroke-width="0.1" >9</text>
<line x1="687.60" y1="359.50" x2="704.60" y2="359.50" stroke="#1a1a1a" stroke-width="1.1"/>
<text x="691.90" y="363.66" font-size="3.3" text-anchor="middle" fill="#666" font-weight="normal" stroke="#666" stroke-width="0.1" >3</text>
<text x="700.40" y="363.66" font-size="3.3" text-anchor="middle" fill="#666" font-weight="normal" stroke="#666" stroke-width="0.1" >6</text>
<line x1="687.60" y1="364.50" x2="704.60" y2="364.50" stroke="#1a1a1a" stroke-width="1.1"/>
<text x="691.90" y="368.94" font-size="3.3" text-anchor="middle" fill="#666" font-weight="normal" stroke="#666" stroke-width="0.1" >2</text>
<text x="700.40" y="368.94" font-size="3.3" text-anchor="middle" fill="#666" font-weight="normal" stroke="#666" stroke-width="0.1" >5</text>
<line x1="687.60" y1="370.50" x2="704.60" y2="370.50" stroke="#1a1a1a" stroke-width="1.1"/>
<text x="691.90" y="374.22" font-size="3.3" text-anchor="middle" fill="#666" font-weight="normal" stroke="#666" stroke-width="0.1" >1</text>
<text x="700.40" y="374.22" font-size="3.3" text-anchor="middle" fill="#666" font-weight="normal" stroke="#666" stroke-width="0.1" >4</text>
<line x1="687.60" y1="375.50" x2="704.60" y2="375.50" stroke="#1a1a1a" stroke-width="1.1"/>
<text x="691.90" y="379.50" font-size="3.3" text-anchor="middle" fill="#666" font-weight="normal" stroke="#666" stroke-width="0.1" >8</text>
<text x="700.40" y="379.50" font-size="3.3" text-anchor="middle" fill="#666" font-weight="normal" stroke="#666" stroke-width="0.1" >7</text>
<rect x="688.50" y="383.50" width="7.00" height="8.00" fill="#fff" stroke="#333" stroke-width="0.95" rx="0.3" />
<text x="692.15" y="389.57" font-size="6.159999999999991" text-anchor="middle" fill="#383838" font-weight="normal" stroke="#383838" stroke-width="0.12" textLength="5.84" lengthAdjust="spacingAndGlyphs">PC</text>
<rect x="696.50" y="383.50" width="9.00" height="8.00" fill="#3a3a3a" stroke="#1a1a1a" stroke-width="0.8" />
<rect x="697.80" y="384.60" width="2.60" height="2.20" fill="#ddd" stroke="none" stroke-width="0" />
<rect x="701.60" y="384.60" width="2.80" height="2.20" fill="#ddd" stroke="none" stroke-width="0" />
<rect x="701.60" y="388.00" width="2.80" height="2.20" fill="#ddd" stroke="none" stroke-width="0" />
<text x="694.80" y="395.10" font-size="3.8" text-anchor="middle" fill="#4a4a4a" font-weight="normal" stroke="#4a4a4a" stroke-width="0.1" >WASH/WIPE</text>
<path d="M598.60,361.40 L599.70,358.40 L607.30,358.40 L608.40,361.40 Z" fill="#fff" stroke="#1a1a1a" stroke-width="1.0" />
<rect x="594.50" y="361.50" width="18.00" height="12.00" fill="#fff" stroke="#1a1a1a" stroke-width="1.1" rx="0.9" />
<circle cx="599.22" cy="366.69" r="1.05" fill="#eee" stroke="#1a1a1a" stroke-width="1.1"/>
<line x1="599.22" y1="367.99" x2="599.22" y2="369.59" stroke="#444" stroke-width="0.5"/>
<circle cx="607.78" cy="366.69" r="1.05" fill="#eee" stroke="#1a1a1a" stroke-width="1.1"/>
<line x1="607.78" y1="367.99" x2="607.78" y2="369.59" stroke="#444" stroke-width="0.5"/>
<rect x="598.50" y="374.50" width="8.00" height="8.00" fill="#fff" stroke="#333" stroke-width="0.95" rx="0.3" />
<text x="602.70" y="380.94" font-size="6.080000000000019" text-anchor="middle" fill="#383838" font-weight="normal" stroke="#383838" stroke-width="0.12" textLength="6.00" lengthAdjust="spacingAndGlyphs">PB</text>
<text x="600.00" y="386.70" font-size="3.6" text-anchor="middle" fill="#4a4a4a" font-weight="normal" stroke="#4a4a4a" stroke-width="0.1" >APW</text>
<text x="600.00" y="390.30" font-size="3.6" text-anchor="middle" fill="#4a4a4a" font-weight="normal" stroke="#4a4a4a" stroke-width="0.1" >MICROSWITCH</text>
<rect x="645.50" y="384.50" width="4.00" height="9.00" fill="#fff" stroke="#1a1a1a" stroke-width="1.0" />
<line x1="645.10" y1="386.50" x2="649.20" y2="386.50" stroke="#1a1a1a" stroke-width="0.7"/>
<rect x="643.50" y="400.50" width="8.00" height="10.00" fill="#fff" stroke="#1a1a1a" stroke-width="1.1" rx="0.6" />
<rect x="645.50" y="402.50" width="4.00" height="6.00" fill="#fff" stroke="#1a1a1a" stroke-width="0.9" rx="0.4" />
<rect x="639.50" y="392.50" width="16.00" height="8.00" fill="#fff" stroke="#1a1a1a" stroke-width="1.1" rx="0.6" />
<rect x="642.50" y="396.50" width="10.00" height="3.00" fill="#fff" stroke="#1a1a1a" stroke-width="0.7" />
<rect x="653.50" y="402.50" width="7.00" height="8.00" fill="#fff" stroke="#333" stroke-width="0.95" rx="0.3" />
<text x="656.80" y="408.72" font-size="6.160000000000037" text-anchor="middle" fill="#383838" font-weight="normal" stroke="#383838" stroke-width="0.12" textLength="5.68" lengthAdjust="spacingAndGlyphs">PF</text>
<text x="649.60" y="415.20" font-size="4.0" text-anchor="middle" fill="#4a4a4a" font-weight="normal" stroke="#4a4a4a" stroke-width="0.1" >ACCESSORY</text>
<text x="649.60" y="419.70" font-size="4.0" text-anchor="middle" fill="#4a4a4a" font-weight="normal" stroke="#4a4a4a" stroke-width="0.1" >SOCKET</text>
<path d="M635.50,431.50 L637.10,428.90 L652.80,428.90 L654.40,431.50" fill="#fff" stroke="#1a1a1a" stroke-width="1.0" />
<path d="M640.55,446.00 L642.15,448.60 L647.75,448.60 L649.35,446.00" fill="#fff" stroke="#1a1a1a" stroke-width="1.0" />
<ellipse cx="634.10" cy="438.35" rx="1.5" ry="3.2" fill="#fff" stroke="#1a1a1a" stroke-width="0.9"/>
<ellipse cx="655.80" cy="438.35" rx="1.5" ry="3.2" fill="#fff" stroke="#1a1a1a" stroke-width="0.9"/>
<rect x="633.50" y="430.50" width="23.00" height="16.00" fill="#fff" stroke="#1a1a1a" stroke-width="1.25" rx="4.6" />
<rect x="635.50" y="433.50" width="19.00" height="10.00" fill="#fff" stroke="#444" stroke-width="0.7" rx="1.4" />
<rect x="637.50" y="435.50" width="6.00" height="6.00" fill="#fff" stroke="#1a1a1a" stroke-width="1.1" />
<text x="640.50" y="440.20" font-size="3.3" text-anchor="middle" fill="#555" font-weight="normal" stroke="#555" stroke-width="0.1" >2</text>
<rect x="646.50" y="435.50" width="6.00" height="6.00" fill="#fff" stroke="#1a1a1a" stroke-width="1.1" />
<text x="649.35" y="440.20" font-size="3.3" text-anchor="middle" fill="#555" font-weight="normal" stroke="#555" stroke-width="0.1" >1</text>
<rect x="657.50" y="438.50" width="61.00" height="4.00" fill="#fff" stroke="#1a1a1a" stroke-width="1.0" />
<rect x="639.50" y="450.50" width="11.00" height="11.00" fill="#fff" stroke="#333" stroke-width="0.95" rx="0.3" />
<text x="645.05" y="459.62" font-size="8.800000000000045" text-anchor="middle" fill="#383838" font-weight="normal" stroke="#383838" stroke-width="0.12" textLength="9.12" lengthAdjust="spacingAndGlyphs">MN</text>
<text x="644.70" y="469.80" font-size="4.0" text-anchor="middle" fill="#4a4a4a" font-weight="normal" stroke="#4a4a4a" stroke-width="0.1" >HORN</text>
<path d="M723.6,144.1 H761.4" fill="none" stroke="#1a1a1a" stroke-width="5.6"/>
<path d="M723.6,144.1 H761.4" fill="none" stroke="#fff" stroke-width="3.6999999999999997"/>
<path d="M723.60,146.15 L727.90,142.05 L732.20,146.15 L736.50,142.05 L740.80,146.15 L745.10,142.05 L749.40,146.15 L753.70,142.05 L758.00,146.15 L761.40,142.91" fill="none" stroke="#1a1a1a" stroke-width="1.15" stroke-linejoin="miter"/>
<path d="M723.60,142.05 L727.90,146.15 L732.20,142.05 L736.50,146.15 L740.80,142.05 L745.10,146.15 L749.40,142.05 L753.70,146.15 L758.00,142.05 L761.40,145.29" fill="none" stroke="#1a1a1a" stroke-width="1.15" stroke-linejoin="miter"/>
<rect x="761.50" y="141.50" width="7.00" height="5.00" fill="#555" stroke="#1a1a1a" stroke-width="0.9" />
<path d="M768.6,142.6 L775.0,139.0 L775.0,148.8 L768.6,145.4 Z" fill="#fff" stroke="#1a1a1a" stroke-width="1.1" />
<circle cx="777.40" cy="143.90" r="5.40" fill="#fff" stroke="#1a1a1a" stroke-width="1.3"/>
<path d="M770.2,142.9 L774.0,140.6 L774.0,147.2 L770.2,145.1 Z" fill="#fff" stroke="none" stroke-width="0" />
<circle cx="777.40" cy="143.90" r="2.60" fill="#fff" stroke="#1a1a1a" stroke-width="1.0"/>
<text x="786.60" y="134.40" font-size="4.8" text-anchor="middle" fill="#4a4a4a" font-weight="normal" stroke="#4a4a4a" stroke-width="0.1" >M10</text>
<rect x="784.50" y="138.50" width="11.00" height="11.00" fill="#fff" stroke="#333" stroke-width="0.95" rx="0.3" />
<text x="789.75" y="146.98" font-size="8.559999999999992" text-anchor="middle" fill="#383838" font-weight="normal" stroke="#383838" stroke-width="0.12" textLength="9.12" lengthAdjust="spacingAndGlyphs">MF</text>
<text x="790.80" y="153.80" font-size="3.3" text-anchor="middle" fill="#4a4a4a" font-weight="normal" stroke="#4a4a4a" stroke-width="0.1" >EARTH</text>
<rect x="723.50" y="203.50" width="41.00" height="4.00" fill="#fff" stroke="#1a1a1a" stroke-width="1.0" />
<line x1="764.00" y1="205.30" x2="779.00" y2="190.40" stroke="#1a1a1a" stroke-width="0.9"/>
<line x1="764.00" y1="205.30" x2="779.40" y2="220.60" stroke="#1a1a1a" stroke-width="0.9"/>
<path d="M783.00,179.70 L784.10,176.70 L792.10,176.70 L793.20,179.70 Z" fill="#fff" stroke="#1a1a1a" stroke-width="1.0" />
<rect x="778.50" y="179.50" width="19.00" height="11.00" fill="#fff" stroke="#1a1a1a" stroke-width="1.1" rx="0.9" />
<circle cx="783.87" cy="184.62" r="1.05" fill="#eee" stroke="#1a1a1a" stroke-width="1.1"/>
<line x1="783.87" y1="185.92" x2="783.87" y2="187.52" stroke="#444" stroke-width="0.5"/>
<circle cx="792.33" cy="184.62" r="1.05" fill="#eee" stroke="#1a1a1a" stroke-width="1.1"/>
<line x1="792.33" y1="185.92" x2="792.33" y2="187.52" stroke="#444" stroke-width="0.5"/>
<rect x="779.50" y="191.50" width="10.00" height="10.00" fill="#fff" stroke="#333" stroke-width="0.95" rx="0.3" />
<text x="784.30" y="199.68" font-size="8.559999999999992" text-anchor="middle" fill="#383838" font-weight="normal" stroke="#383838" stroke-width="0.12" textLength="8.24" lengthAdjust="spacingAndGlyphs">NL</text>
<path d="M783.00,220.70 L784.10,217.70 L792.10,217.70 L793.20,220.70 Z" fill="#fff" stroke="#1a1a1a" stroke-width="1.0" />
<rect x="778.50" y="220.50" width="19.00" height="11.00" fill="#fff" stroke="#1a1a1a" stroke-width="1.1" rx="0.9" />
<circle cx="783.87" cy="225.62" r="1.05" fill="#eee" stroke="#1a1a1a" stroke-width="1.1"/>
<line x1="783.87" y1="226.92" x2="783.87" y2="228.52" stroke="#444" stroke-width="0.5"/>
<circle cx="792.33" cy="225.62" r="1.05" fill="#eee" stroke="#1a1a1a" stroke-width="1.1"/>
<line x1="792.33" y1="226.92" x2="792.33" y2="228.52" stroke="#444" stroke-width="0.5"/>
<rect x="779.50" y="232.50" width="10.00" height="11.00" fill="#fff" stroke="#333" stroke-width="0.95" rx="0.3" />
<text x="784.30" y="240.96" font-size="8.639999999999986" text-anchor="middle" fill="#383838" font-weight="normal" stroke="#383838" stroke-width="0.12" textLength="8.24" lengthAdjust="spacingAndGlyphs">NM</text>
<rect x="723.50" y="260.50" width="30.00" height="5.00" fill="#fff" stroke="#1a1a1a" stroke-width="1.0" />
<line x1="753.40" y1="263.50" x2="778.70" y2="263.50" stroke="#1a1a1a" stroke-width="0.9"/>
<rect x="784.50" y="253.50" width="8.00" height="3.00" fill="#666" stroke="#1a1a1a" stroke-width="0.9" rx="0.6" />
<rect x="778.50" y="255.50" width="19.00" height="15.00" fill="#fff" stroke="#1a1a1a" stroke-width="1.3" rx="4.4" />
<circle cx="783.80" cy="261.00" r="1.55" fill="#fff" stroke="#1a1a1a" stroke-width="1.1"/>
<circle cx="783.80" cy="261.00" r="0.50" fill="#888" stroke="#1a1a1a" stroke-width="0.3"/>
<circle cx="792.60" cy="261.00" r="1.55" fill="#fff" stroke="#1a1a1a" stroke-width="1.1"/>
<circle cx="792.60" cy="261.00" r="0.50" fill="#888" stroke="#1a1a1a" stroke-width="0.3"/>
<circle cx="783.80" cy="265.70" r="1.55" fill="#fff" stroke="#1a1a1a" stroke-width="1.1"/>
<circle cx="783.80" cy="265.70" r="0.50" fill="#888" stroke="#1a1a1a" stroke-width="0.3"/>
<circle cx="792.60" cy="265.70" r="1.55" fill="#fff" stroke="#1a1a1a" stroke-width="1.1"/>
<circle cx="792.60" cy="265.70" r="0.50" fill="#888" stroke="#1a1a1a" stroke-width="0.3"/>
<rect x="782.50" y="272.50" width="11.00" height="11.00" fill="#fff" stroke="#333" stroke-width="0.95" rx="0.3" />
<text x="788.10" y="280.86" font-size="8.640000000000056" text-anchor="middle" fill="#383838" font-weight="normal" stroke="#383838" stroke-width="0.12" textLength="8.72" lengthAdjust="spacingAndGlyphs">NZ</text>
<text x="784.80" y="287.60" font-size="4.0" text-anchor="middle" fill="#4a4a4a" font-weight="normal" stroke="#4a4a4a" stroke-width="0.1" >ISO/SAE</text>
<text x="784.80" y="291.70" font-size="4.0" text-anchor="middle" fill="#4a4a4a" font-weight="normal" stroke="#4a4a4a" stroke-width="0.1" >CONNECTOR</text>
<line x1="788.50" y1="294.50" x2="788.50" y2="301.80" stroke="#1a1a1a" stroke-width="1.4"/>
<line x1="787.40" y1="297.50" x2="789.60" y2="297.50" stroke="#1a1a1a" stroke-width="1.2"/>
<text x="785.80" y="306.10" font-size="3.95" text-anchor="middle" fill="#4a4a4a" font-weight="normal" stroke="#4a4a4a" stroke-width="0.1" >PLUG PH</text>
<rect x="723.50" y="384.50" width="41.00" height="5.00" fill="#fff" stroke="#1a1a1a" stroke-width="1.0" />
<line x1="764.60" y1="386.80" x2="779.20" y2="371.80" stroke="#1a1a1a" stroke-width="1.0"/>
<line x1="764.60" y1="386.80" x2="778.80" y2="401.60" stroke="#1a1a1a" stroke-width="1.0"/>
<path d="M783.10,360.90 L784.20,357.90 L792.20,357.90 L793.30,360.90 Z" fill="#fff" stroke="#1a1a1a" stroke-width="1.0" />
<rect x="779.50" y="360.50" width="18.00" height="12.00" fill="#fff" stroke="#1a1a1a" stroke-width="1.1" rx="0.9" />
<circle cx="783.97" cy="366.10" r="1.05" fill="#eee" stroke="#1a1a1a" stroke-width="1.1"/>
<line x1="783.97" y1="367.40" x2="783.97" y2="369.00" stroke="#444" stroke-width="0.5"/>
<circle cx="792.43" cy="366.10" r="1.05" fill="#eee" stroke="#1a1a1a" stroke-width="1.1"/>
<line x1="792.43" y1="367.40" x2="792.43" y2="369.00" stroke="#444" stroke-width="0.5"/>
<rect x="782.50" y="373.50" width="11.00" height="10.00" fill="#fff" stroke="#333" stroke-width="0.95" rx="0.3" />
<text x="788.10" y="381.26" font-size="8.080000000000064" text-anchor="middle" fill="#383838" font-weight="normal" stroke="#383838" stroke-width="0.12" textLength="8.48" lengthAdjust="spacingAndGlyphs">NR</text>
<text x="782.90" y="388.20" font-size="4.0" text-anchor="start" fill="#4a4a4a" font-weight="normal" stroke="#4a4a4a" stroke-width="0.1" >SERVO</text>
<text x="782.90" y="392.90" font-size="4.0" text-anchor="start" fill="#4a4a4a" font-weight="normal" stroke="#4a4a4a" stroke-width="0.1" >SOLENOID</text>
<path d="M755.6,403.5 L768.9,394.9 L773.5,400.4 L760.3,409.0 Z" fill="#fff" stroke="#1a1a1a" stroke-width="1.0" />
<path d="M761.1,409.7 L775.9,399.9 L778.2,403.5 L767.8,415.5 Z" fill="#fff" stroke="#1a1a1a" stroke-width="1.0" />
<text x="0.00" y="0.00" font-size="2.6" text-anchor="middle" fill="#666" font-weight="normal" stroke="#666" stroke-width="0.1" transform="translate(760.6,404.6) rotate(-33)" text-anchor="start">SPEED</text>
<path d="M782.95,401.90 L784.05,398.90 L792.05,398.90 L793.15,401.90 Z" fill="#fff" stroke="#1a1a1a" stroke-width="1.0" />
<rect x="778.50" y="401.50" width="19.00" height="12.00" fill="#fff" stroke="#1a1a1a" stroke-width="1.1" rx="0.9" />
<circle cx="783.75" cy="407.10" r="1.05" fill="#eee" stroke="#1a1a1a" stroke-width="1.1"/>
<line x1="783.75" y1="408.40" x2="783.75" y2="410.00" stroke="#444" stroke-width="0.5"/>
<circle cx="792.35" cy="407.10" r="1.05" fill="#eee" stroke="#1a1a1a" stroke-width="1.1"/>
<line x1="792.35" y1="408.40" x2="792.35" y2="410.00" stroke="#444" stroke-width="0.5"/>
<rect x="782.50" y="414.50" width="11.00" height="10.00" fill="#fff" stroke="#333" stroke-width="0.95" rx="0.3" />
<text x="788.10" y="422.76" font-size="8.080000000000064" text-anchor="middle" fill="#383838" font-weight="normal" stroke="#383838" stroke-width="0.12" textLength="8.48" lengthAdjust="spacingAndGlyphs">NK</text>
<text x="776.20" y="428.80" font-size="4.0" text-anchor="start" fill="#4a4a4a" font-weight="normal" stroke="#4a4a4a" stroke-width="0.1" >2 SPEED</text>
<text x="776.20" y="432.70" font-size="4.0" text-anchor="start" fill="#4a4a4a" font-weight="normal" stroke="#4a4a4a" stroke-width="0.1" >SOLENOID</text>
<line x1="719.50" y1="442.80" x2="719.50" y2="470.40" stroke="#1a1a1a" stroke-width="0.9"/>
<rect x="711.50" y="475.50" width="3.00" height="4.00" fill="#777" stroke="#1a1a1a" stroke-width="0.8" />
<rect x="725.50" y="475.50" width="3.00" height="4.00" fill="#777" stroke="#1a1a1a" stroke-width="0.8" />
<rect x="711.50" y="484.50" width="3.00" height="4.00" fill="#777" stroke="#1a1a1a" stroke-width="0.8" />
<rect x="725.50" y="484.50" width="3.00" height="4.00" fill="#777" stroke="#1a1a1a" stroke-width="0.8" />
<rect x="711.50" y="493.50" width="3.00" height="4.00" fill="#777" stroke="#1a1a1a" stroke-width="0.8" />
<rect x="725.50" y="493.50" width="3.00" height="4.00" fill="#777" stroke="#1a1a1a" stroke-width="0.8" />
<rect x="717.50" y="470.50" width="5.00" height="3.00" fill="#fff" stroke="#1a1a1a" stroke-width="0.9" />
<rect x="717.60" y="499.60" width="4.60" height="2.40" fill="#fff" stroke="#1a1a1a" stroke-width="0.9" />
<rect x="714.50" y="472.50" width="11.00" height="28.00" fill="#555" stroke="#1a1a1a" stroke-width="1.4" rx="1.4" />
<rect x="717.50" y="474.50" width="5.00" height="24.00" fill="#ddd" stroke="#1a1a1a" stroke-width="0.6" />
<rect x="718.50" y="475.50" width="4.00" height="5.00" fill="#fff" stroke="#1a1a1a" stroke-width="0.7" />
<rect x="718.50" y="482.50" width="4.00" height="6.00" fill="#fff" stroke="#1a1a1a" stroke-width="0.7" />
<rect x="718.50" y="491.50" width="4.00" height="5.00" fill="#fff" stroke="#1a1a1a" stroke-width="0.7" />
<rect x="714.50" y="504.50" width="11.00" height="10.00" fill="#fff" stroke="#333" stroke-width="0.95" rx="0.3" />
<text x="720.20" y="512.70" font-size="8.480000000000064" text-anchor="middle" fill="#383838" font-weight="normal" stroke="#383838" stroke-width="0.12" textLength="9.20" lengthAdjust="spacingAndGlyphs">MA</text>
<text x="724.00" y="519.40" font-size="3.95" text-anchor="middle" fill="#4a4a4a" font-weight="normal" stroke="#4a4a4a" stroke-width="0.1" >PRIMARY</text>
<text x="724.00" y="523.40" font-size="3.95" text-anchor="middle" fill="#4a4a4a" font-weight="normal" stroke="#4a4a4a" stroke-width="0.1" >FUSE</text>
<text x="637.60" y="497.70" font-size="4.0" text-anchor="end" fill="#4a4a4a" font-weight="normal" stroke="#4a4a4a" stroke-width="0.1" >BATTERY</text>
<rect x="643.50" y="490.50" width="11.00" height="10.00" fill="#fff" stroke="#333" stroke-width="0.95" rx="0.3" />
<text x="648.80" y="498.60" font-size="8.320000000000027" text-anchor="middle" fill="#383838" font-weight="normal" stroke="#383838" stroke-width="0.12" textLength="8.32" lengthAdjust="spacingAndGlyphs">MB</text>
<text x="659.80" y="488.30" font-size="3.9" text-anchor="middle" fill="#4a4a4a" font-weight="normal" stroke="#4a4a4a" stroke-width="0.1" >M8</text>
<path d="M662.6,490.2 L668.2,492.6 L668.2,495.8 L662.6,498.0 Z" fill="#fff" stroke="#1a1a1a" stroke-width="1.1" />
<circle cx="660.30" cy="494.10" r="4.30" fill="#fff" stroke="#1a1a1a" stroke-width="1.4"/>
<path d="M663.6,492.0 L667.0,493.2 L667.0,495.2 L663.6,496.2 Z" fill="#fff" stroke="none" stroke-width="0" />
<circle cx="660.30" cy="494.10" r="1.90" fill="#fff" stroke="#1a1a1a" stroke-width="1.0"/>
<rect x="666.50" y="492.50" width="5.00" height="4.00" fill="#555" stroke="#1a1a1a" stroke-width="0.8" />
<line x1="671.90" y1="494.50" x2="683.80" y2="494.50" stroke="#1a1a1a" stroke-width="1.0"/>
<rect x="683.8" y="490.9" width="27.4" height="6.8" fill="url(#corrH)" stroke="#1a1a1a" stroke-width="0.8" rx="1.5"/>
<line x1="711.00" y1="494.50" x2="714.20" y2="494.50" stroke="#1a1a1a" stroke-width="0.9"/>
<rect x="739.50" y="475.50" width="8.00" height="6.00" fill="#fff" stroke="#1a1a1a" stroke-width="1.1" />
<rect x="739.50" y="490.50" width="8.00" height="6.00" fill="#fff" stroke="#1a1a1a" stroke-width="1.1" />
<path d="M733.2,485.8 L740.6,484.4 L747.0,484.4 L747.0,487.3 L740.6,487.3 Z" fill="#fff" stroke="#1a1a1a" stroke-width="0.8" />
<line x1="741.50" y1="483.00" x2="741.50" y2="484.40" stroke="#1a1a1a" stroke-width="0.6"/>
<line x1="743.50" y1="482.40" x2="743.50" y2="484.40" stroke="#1a1a1a" stroke-width="0.6"/>
<rect x="747.50" y="472.50" width="15.00" height="27.00" fill="#fff" stroke="#1a1a1a" stroke-width="1.2" rx="1.2" />
<rect x="761.50" y="470.50" width="6.00" height="31.00" fill="#fff" stroke="#1a1a1a" stroke-width="1.1" rx="0.8" />
<rect x="768.50" y="469.50" width="18.00" height="33.00" fill="#fff" stroke="#1a1a1a" stroke-width="1.2" rx="1.2" />
<line x1="775.50" y1="469.60" x2="775.50" y2="502.70" stroke="#1a1a1a" stroke-width="0.8"/>
<rect x="769.80" y="468.40" width="3.60" height="1.60" fill="#fff" stroke="#1a1a1a" stroke-width="0.7" />
<rect x="769.80" y="502.40" width="3.60" height="1.60" fill="#fff" stroke="#1a1a1a" stroke-width="0.7" />
<rect x="778.50" y="473.50" width="12.00" height="26.00" fill="#fff" stroke="#1a1a1a" stroke-width="1.2" />
<line x1="780.50" y1="473.70" x2="780.50" y2="499.60" stroke="#1a1a1a" stroke-width="0.7"/>
</svg></body></html>
